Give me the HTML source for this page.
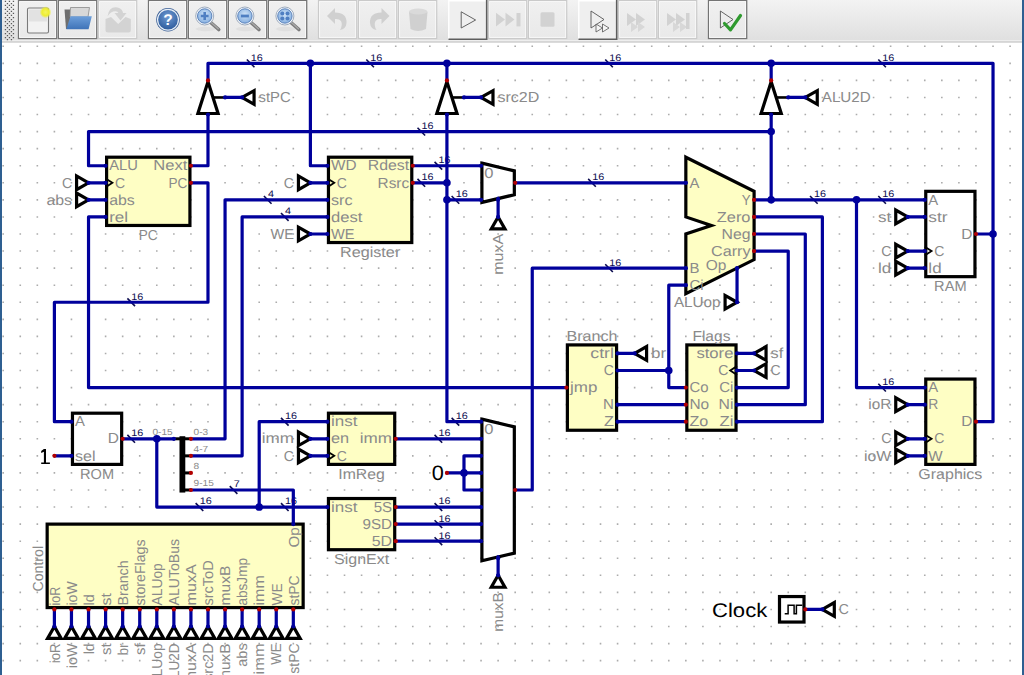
<!DOCTYPE html>
<html><head><meta charset="utf-8"><style>
html,body{margin:0;padding:0;width:1024px;height:675px;overflow:hidden;background:#fff;}
svg{position:absolute;left:0;top:0;}
text{font-family:"Liberation Sans",sans-serif;text-rendering:geometricPrecision;}
.w{fill:none;stroke:#00009c;stroke-width:3.2;stroke-linejoin:round;stroke-linecap:round;}
</style></head><body>
<svg width="1024" height="675" viewBox="0 0 1024 675">
<rect x="0" y="0" width="1024" height="675" fill="#fff"/>
<path d="M2.4 45.47h1.6v1.6h-1.6zM2.4 62.54h1.6v1.6h-1.6zM2.4 79.6h1.6v1.6h-1.6zM2.4 96.67h1.6v1.6h-1.6zM2.4 113.73h1.6v1.6h-1.6zM2.4 130.8h1.6v1.6h-1.6zM2.4 147.87h1.6v1.6h-1.6zM2.4 164.93h1.6v1.6h-1.6zM2.4 182h1.6v1.6h-1.6zM2.4 199.06h1.6v1.6h-1.6zM2.4 216.13h1.6v1.6h-1.6zM2.4 233.2h1.6v1.6h-1.6zM2.4 250.26h1.6v1.6h-1.6zM2.4 267.33h1.6v1.6h-1.6zM2.4 284.39h1.6v1.6h-1.6zM2.4 301.46h1.6v1.6h-1.6zM2.4 318.53h1.6v1.6h-1.6zM2.4 335.59h1.6v1.6h-1.6zM2.4 352.66h1.6v1.6h-1.6zM2.4 369.72h1.6v1.6h-1.6zM2.4 386.79h1.6v1.6h-1.6zM2.4 403.86h1.6v1.6h-1.6zM2.4 420.92h1.6v1.6h-1.6zM2.4 437.99h1.6v1.6h-1.6zM2.4 455.05h1.6v1.6h-1.6zM2.4 472.12h1.6v1.6h-1.6zM2.4 489.19h1.6v1.6h-1.6zM2.4 506.25h1.6v1.6h-1.6zM2.4 523.32h1.6v1.6h-1.6zM2.4 540.38h1.6v1.6h-1.6zM2.4 557.45h1.6v1.6h-1.6zM2.4 574.52h1.6v1.6h-1.6zM2.4 591.58h1.6v1.6h-1.6zM2.4 608.65h1.6v1.6h-1.6zM2.4 625.71h1.6v1.6h-1.6zM2.4 642.78h1.6v1.6h-1.6zM2.4 659.85h1.6v1.6h-1.6zM19.47 45.47h1.6v1.6h-1.6zM19.47 62.54h1.6v1.6h-1.6zM19.47 79.6h1.6v1.6h-1.6zM19.47 96.67h1.6v1.6h-1.6zM19.47 113.73h1.6v1.6h-1.6zM19.47 130.8h1.6v1.6h-1.6zM19.47 147.87h1.6v1.6h-1.6zM19.47 164.93h1.6v1.6h-1.6zM19.47 182h1.6v1.6h-1.6zM19.47 199.06h1.6v1.6h-1.6zM19.47 216.13h1.6v1.6h-1.6zM19.47 233.2h1.6v1.6h-1.6zM19.47 250.26h1.6v1.6h-1.6zM19.47 267.33h1.6v1.6h-1.6zM19.47 284.39h1.6v1.6h-1.6zM19.47 301.46h1.6v1.6h-1.6zM19.47 318.53h1.6v1.6h-1.6zM19.47 335.59h1.6v1.6h-1.6zM19.47 352.66h1.6v1.6h-1.6zM19.47 369.72h1.6v1.6h-1.6zM19.47 386.79h1.6v1.6h-1.6zM19.47 403.86h1.6v1.6h-1.6zM19.47 420.92h1.6v1.6h-1.6zM19.47 437.99h1.6v1.6h-1.6zM19.47 455.05h1.6v1.6h-1.6zM19.47 472.12h1.6v1.6h-1.6zM19.47 489.19h1.6v1.6h-1.6zM19.47 506.25h1.6v1.6h-1.6zM19.47 523.32h1.6v1.6h-1.6zM19.47 540.38h1.6v1.6h-1.6zM19.47 557.45h1.6v1.6h-1.6zM19.47 574.52h1.6v1.6h-1.6zM19.47 591.58h1.6v1.6h-1.6zM19.47 608.65h1.6v1.6h-1.6zM19.47 625.71h1.6v1.6h-1.6zM19.47 642.78h1.6v1.6h-1.6zM19.47 659.85h1.6v1.6h-1.6zM36.53 45.47h1.6v1.6h-1.6zM36.53 62.54h1.6v1.6h-1.6zM36.53 79.6h1.6v1.6h-1.6zM36.53 96.67h1.6v1.6h-1.6zM36.53 113.73h1.6v1.6h-1.6zM36.53 130.8h1.6v1.6h-1.6zM36.53 147.87h1.6v1.6h-1.6zM36.53 164.93h1.6v1.6h-1.6zM36.53 182h1.6v1.6h-1.6zM36.53 199.06h1.6v1.6h-1.6zM36.53 216.13h1.6v1.6h-1.6zM36.53 233.2h1.6v1.6h-1.6zM36.53 250.26h1.6v1.6h-1.6zM36.53 267.33h1.6v1.6h-1.6zM36.53 284.39h1.6v1.6h-1.6zM36.53 301.46h1.6v1.6h-1.6zM36.53 318.53h1.6v1.6h-1.6zM36.53 335.59h1.6v1.6h-1.6zM36.53 352.66h1.6v1.6h-1.6zM36.53 369.72h1.6v1.6h-1.6zM36.53 386.79h1.6v1.6h-1.6zM36.53 403.86h1.6v1.6h-1.6zM36.53 420.92h1.6v1.6h-1.6zM36.53 437.99h1.6v1.6h-1.6zM36.53 455.05h1.6v1.6h-1.6zM36.53 472.12h1.6v1.6h-1.6zM36.53 489.19h1.6v1.6h-1.6zM36.53 506.25h1.6v1.6h-1.6zM36.53 523.32h1.6v1.6h-1.6zM36.53 540.38h1.6v1.6h-1.6zM36.53 557.45h1.6v1.6h-1.6zM36.53 574.52h1.6v1.6h-1.6zM36.53 591.58h1.6v1.6h-1.6zM36.53 608.65h1.6v1.6h-1.6zM36.53 625.71h1.6v1.6h-1.6zM36.53 642.78h1.6v1.6h-1.6zM36.53 659.85h1.6v1.6h-1.6zM53.6 45.47h1.6v1.6h-1.6zM53.6 62.54h1.6v1.6h-1.6zM53.6 79.6h1.6v1.6h-1.6zM53.6 96.67h1.6v1.6h-1.6zM53.6 113.73h1.6v1.6h-1.6zM53.6 130.8h1.6v1.6h-1.6zM53.6 147.87h1.6v1.6h-1.6zM53.6 164.93h1.6v1.6h-1.6zM53.6 182h1.6v1.6h-1.6zM53.6 199.06h1.6v1.6h-1.6zM53.6 216.13h1.6v1.6h-1.6zM53.6 233.2h1.6v1.6h-1.6zM53.6 250.26h1.6v1.6h-1.6zM53.6 267.33h1.6v1.6h-1.6zM53.6 284.39h1.6v1.6h-1.6zM53.6 301.46h1.6v1.6h-1.6zM53.6 318.53h1.6v1.6h-1.6zM53.6 335.59h1.6v1.6h-1.6zM53.6 352.66h1.6v1.6h-1.6zM53.6 369.72h1.6v1.6h-1.6zM53.6 386.79h1.6v1.6h-1.6zM53.6 403.86h1.6v1.6h-1.6zM53.6 420.92h1.6v1.6h-1.6zM53.6 437.99h1.6v1.6h-1.6zM53.6 455.05h1.6v1.6h-1.6zM53.6 472.12h1.6v1.6h-1.6zM53.6 489.19h1.6v1.6h-1.6zM53.6 506.25h1.6v1.6h-1.6zM53.6 523.32h1.6v1.6h-1.6zM53.6 540.38h1.6v1.6h-1.6zM53.6 557.45h1.6v1.6h-1.6zM53.6 574.52h1.6v1.6h-1.6zM53.6 591.58h1.6v1.6h-1.6zM53.6 608.65h1.6v1.6h-1.6zM53.6 625.71h1.6v1.6h-1.6zM53.6 642.78h1.6v1.6h-1.6zM53.6 659.85h1.6v1.6h-1.6zM70.66 45.47h1.6v1.6h-1.6zM70.66 62.54h1.6v1.6h-1.6zM70.66 79.6h1.6v1.6h-1.6zM70.66 96.67h1.6v1.6h-1.6zM70.66 113.73h1.6v1.6h-1.6zM70.66 130.8h1.6v1.6h-1.6zM70.66 147.87h1.6v1.6h-1.6zM70.66 164.93h1.6v1.6h-1.6zM70.66 182h1.6v1.6h-1.6zM70.66 199.06h1.6v1.6h-1.6zM70.66 216.13h1.6v1.6h-1.6zM70.66 233.2h1.6v1.6h-1.6zM70.66 250.26h1.6v1.6h-1.6zM70.66 267.33h1.6v1.6h-1.6zM70.66 284.39h1.6v1.6h-1.6zM70.66 301.46h1.6v1.6h-1.6zM70.66 318.53h1.6v1.6h-1.6zM70.66 335.59h1.6v1.6h-1.6zM70.66 352.66h1.6v1.6h-1.6zM70.66 369.72h1.6v1.6h-1.6zM70.66 386.79h1.6v1.6h-1.6zM70.66 403.86h1.6v1.6h-1.6zM70.66 420.92h1.6v1.6h-1.6zM70.66 437.99h1.6v1.6h-1.6zM70.66 455.05h1.6v1.6h-1.6zM70.66 472.12h1.6v1.6h-1.6zM70.66 489.19h1.6v1.6h-1.6zM70.66 506.25h1.6v1.6h-1.6zM70.66 523.32h1.6v1.6h-1.6zM70.66 540.38h1.6v1.6h-1.6zM70.66 557.45h1.6v1.6h-1.6zM70.66 574.52h1.6v1.6h-1.6zM70.66 591.58h1.6v1.6h-1.6zM70.66 608.65h1.6v1.6h-1.6zM70.66 625.71h1.6v1.6h-1.6zM70.66 642.78h1.6v1.6h-1.6zM70.66 659.85h1.6v1.6h-1.6zM87.73 45.47h1.6v1.6h-1.6zM87.73 62.54h1.6v1.6h-1.6zM87.73 79.6h1.6v1.6h-1.6zM87.73 96.67h1.6v1.6h-1.6zM87.73 113.73h1.6v1.6h-1.6zM87.73 130.8h1.6v1.6h-1.6zM87.73 147.87h1.6v1.6h-1.6zM87.73 164.93h1.6v1.6h-1.6zM87.73 182h1.6v1.6h-1.6zM87.73 199.06h1.6v1.6h-1.6zM87.73 216.13h1.6v1.6h-1.6zM87.73 233.2h1.6v1.6h-1.6zM87.73 250.26h1.6v1.6h-1.6zM87.73 267.33h1.6v1.6h-1.6zM87.73 284.39h1.6v1.6h-1.6zM87.73 301.46h1.6v1.6h-1.6zM87.73 318.53h1.6v1.6h-1.6zM87.73 335.59h1.6v1.6h-1.6zM87.73 352.66h1.6v1.6h-1.6zM87.73 369.72h1.6v1.6h-1.6zM87.73 386.79h1.6v1.6h-1.6zM87.73 403.86h1.6v1.6h-1.6zM87.73 420.92h1.6v1.6h-1.6zM87.73 437.99h1.6v1.6h-1.6zM87.73 455.05h1.6v1.6h-1.6zM87.73 472.12h1.6v1.6h-1.6zM87.73 489.19h1.6v1.6h-1.6zM87.73 506.25h1.6v1.6h-1.6zM87.73 523.32h1.6v1.6h-1.6zM87.73 540.38h1.6v1.6h-1.6zM87.73 557.45h1.6v1.6h-1.6zM87.73 574.52h1.6v1.6h-1.6zM87.73 591.58h1.6v1.6h-1.6zM87.73 608.65h1.6v1.6h-1.6zM87.73 625.71h1.6v1.6h-1.6zM87.73 642.78h1.6v1.6h-1.6zM87.73 659.85h1.6v1.6h-1.6zM104.8 45.47h1.6v1.6h-1.6zM104.8 62.54h1.6v1.6h-1.6zM104.8 79.6h1.6v1.6h-1.6zM104.8 96.67h1.6v1.6h-1.6zM104.8 113.73h1.6v1.6h-1.6zM104.8 130.8h1.6v1.6h-1.6zM104.8 147.87h1.6v1.6h-1.6zM104.8 164.93h1.6v1.6h-1.6zM104.8 182h1.6v1.6h-1.6zM104.8 199.06h1.6v1.6h-1.6zM104.8 216.13h1.6v1.6h-1.6zM104.8 233.2h1.6v1.6h-1.6zM104.8 250.26h1.6v1.6h-1.6zM104.8 267.33h1.6v1.6h-1.6zM104.8 284.39h1.6v1.6h-1.6zM104.8 301.46h1.6v1.6h-1.6zM104.8 318.53h1.6v1.6h-1.6zM104.8 335.59h1.6v1.6h-1.6zM104.8 352.66h1.6v1.6h-1.6zM104.8 369.72h1.6v1.6h-1.6zM104.8 386.79h1.6v1.6h-1.6zM104.8 403.86h1.6v1.6h-1.6zM104.8 420.92h1.6v1.6h-1.6zM104.8 437.99h1.6v1.6h-1.6zM104.8 455.05h1.6v1.6h-1.6zM104.8 472.12h1.6v1.6h-1.6zM104.8 489.19h1.6v1.6h-1.6zM104.8 506.25h1.6v1.6h-1.6zM104.8 523.32h1.6v1.6h-1.6zM104.8 540.38h1.6v1.6h-1.6zM104.8 557.45h1.6v1.6h-1.6zM104.8 574.52h1.6v1.6h-1.6zM104.8 591.58h1.6v1.6h-1.6zM104.8 608.65h1.6v1.6h-1.6zM104.8 625.71h1.6v1.6h-1.6zM104.8 642.78h1.6v1.6h-1.6zM104.8 659.85h1.6v1.6h-1.6zM121.86 45.47h1.6v1.6h-1.6zM121.86 62.54h1.6v1.6h-1.6zM121.86 79.6h1.6v1.6h-1.6zM121.86 96.67h1.6v1.6h-1.6zM121.86 113.73h1.6v1.6h-1.6zM121.86 130.8h1.6v1.6h-1.6zM121.86 147.87h1.6v1.6h-1.6zM121.86 164.93h1.6v1.6h-1.6zM121.86 182h1.6v1.6h-1.6zM121.86 199.06h1.6v1.6h-1.6zM121.86 216.13h1.6v1.6h-1.6zM121.86 233.2h1.6v1.6h-1.6zM121.86 250.26h1.6v1.6h-1.6zM121.86 267.33h1.6v1.6h-1.6zM121.86 284.39h1.6v1.6h-1.6zM121.86 301.46h1.6v1.6h-1.6zM121.86 318.53h1.6v1.6h-1.6zM121.86 335.59h1.6v1.6h-1.6zM121.86 352.66h1.6v1.6h-1.6zM121.86 369.72h1.6v1.6h-1.6zM121.86 386.79h1.6v1.6h-1.6zM121.86 403.86h1.6v1.6h-1.6zM121.86 420.92h1.6v1.6h-1.6zM121.86 437.99h1.6v1.6h-1.6zM121.86 455.05h1.6v1.6h-1.6zM121.86 472.12h1.6v1.6h-1.6zM121.86 489.19h1.6v1.6h-1.6zM121.86 506.25h1.6v1.6h-1.6zM121.86 523.32h1.6v1.6h-1.6zM121.86 540.38h1.6v1.6h-1.6zM121.86 557.45h1.6v1.6h-1.6zM121.86 574.52h1.6v1.6h-1.6zM121.86 591.58h1.6v1.6h-1.6zM121.86 608.65h1.6v1.6h-1.6zM121.86 625.71h1.6v1.6h-1.6zM121.86 642.78h1.6v1.6h-1.6zM121.86 659.85h1.6v1.6h-1.6zM138.93 45.47h1.6v1.6h-1.6zM138.93 62.54h1.6v1.6h-1.6zM138.93 79.6h1.6v1.6h-1.6zM138.93 96.67h1.6v1.6h-1.6zM138.93 113.73h1.6v1.6h-1.6zM138.93 130.8h1.6v1.6h-1.6zM138.93 147.87h1.6v1.6h-1.6zM138.93 164.93h1.6v1.6h-1.6zM138.93 182h1.6v1.6h-1.6zM138.93 199.06h1.6v1.6h-1.6zM138.93 216.13h1.6v1.6h-1.6zM138.93 233.2h1.6v1.6h-1.6zM138.93 250.26h1.6v1.6h-1.6zM138.93 267.33h1.6v1.6h-1.6zM138.93 284.39h1.6v1.6h-1.6zM138.93 301.46h1.6v1.6h-1.6zM138.93 318.53h1.6v1.6h-1.6zM138.93 335.59h1.6v1.6h-1.6zM138.93 352.66h1.6v1.6h-1.6zM138.93 369.72h1.6v1.6h-1.6zM138.93 386.79h1.6v1.6h-1.6zM138.93 403.86h1.6v1.6h-1.6zM138.93 420.92h1.6v1.6h-1.6zM138.93 437.99h1.6v1.6h-1.6zM138.93 455.05h1.6v1.6h-1.6zM138.93 472.12h1.6v1.6h-1.6zM138.93 489.19h1.6v1.6h-1.6zM138.93 506.25h1.6v1.6h-1.6zM138.93 523.32h1.6v1.6h-1.6zM138.93 540.38h1.6v1.6h-1.6zM138.93 557.45h1.6v1.6h-1.6zM138.93 574.52h1.6v1.6h-1.6zM138.93 591.58h1.6v1.6h-1.6zM138.93 608.65h1.6v1.6h-1.6zM138.93 625.71h1.6v1.6h-1.6zM138.93 642.78h1.6v1.6h-1.6zM138.93 659.85h1.6v1.6h-1.6zM155.99 45.47h1.6v1.6h-1.6zM155.99 62.54h1.6v1.6h-1.6zM155.99 79.6h1.6v1.6h-1.6zM155.99 96.67h1.6v1.6h-1.6zM155.99 113.73h1.6v1.6h-1.6zM155.99 130.8h1.6v1.6h-1.6zM155.99 147.87h1.6v1.6h-1.6zM155.99 164.93h1.6v1.6h-1.6zM155.99 182h1.6v1.6h-1.6zM155.99 199.06h1.6v1.6h-1.6zM155.99 216.13h1.6v1.6h-1.6zM155.99 233.2h1.6v1.6h-1.6zM155.99 250.26h1.6v1.6h-1.6zM155.99 267.33h1.6v1.6h-1.6zM155.99 284.39h1.6v1.6h-1.6zM155.99 301.46h1.6v1.6h-1.6zM155.99 318.53h1.6v1.6h-1.6zM155.99 335.59h1.6v1.6h-1.6zM155.99 352.66h1.6v1.6h-1.6zM155.99 369.72h1.6v1.6h-1.6zM155.99 386.79h1.6v1.6h-1.6zM155.99 403.86h1.6v1.6h-1.6zM155.99 420.92h1.6v1.6h-1.6zM155.99 437.99h1.6v1.6h-1.6zM155.99 455.05h1.6v1.6h-1.6zM155.99 472.12h1.6v1.6h-1.6zM155.99 489.19h1.6v1.6h-1.6zM155.99 506.25h1.6v1.6h-1.6zM155.99 523.32h1.6v1.6h-1.6zM155.99 540.38h1.6v1.6h-1.6zM155.99 557.45h1.6v1.6h-1.6zM155.99 574.52h1.6v1.6h-1.6zM155.99 591.58h1.6v1.6h-1.6zM155.99 608.65h1.6v1.6h-1.6zM155.99 625.71h1.6v1.6h-1.6zM155.99 642.78h1.6v1.6h-1.6zM155.99 659.85h1.6v1.6h-1.6zM173.06 45.47h1.6v1.6h-1.6zM173.06 62.54h1.6v1.6h-1.6zM173.06 79.6h1.6v1.6h-1.6zM173.06 96.67h1.6v1.6h-1.6zM173.06 113.73h1.6v1.6h-1.6zM173.06 130.8h1.6v1.6h-1.6zM173.06 147.87h1.6v1.6h-1.6zM173.06 164.93h1.6v1.6h-1.6zM173.06 182h1.6v1.6h-1.6zM173.06 199.06h1.6v1.6h-1.6zM173.06 216.13h1.6v1.6h-1.6zM173.06 233.2h1.6v1.6h-1.6zM173.06 250.26h1.6v1.6h-1.6zM173.06 267.33h1.6v1.6h-1.6zM173.06 284.39h1.6v1.6h-1.6zM173.06 301.46h1.6v1.6h-1.6zM173.06 318.53h1.6v1.6h-1.6zM173.06 335.59h1.6v1.6h-1.6zM173.06 352.66h1.6v1.6h-1.6zM173.06 369.72h1.6v1.6h-1.6zM173.06 386.79h1.6v1.6h-1.6zM173.06 403.86h1.6v1.6h-1.6zM173.06 420.92h1.6v1.6h-1.6zM173.06 437.99h1.6v1.6h-1.6zM173.06 455.05h1.6v1.6h-1.6zM173.06 472.12h1.6v1.6h-1.6zM173.06 489.19h1.6v1.6h-1.6zM173.06 506.25h1.6v1.6h-1.6zM173.06 523.32h1.6v1.6h-1.6zM173.06 540.38h1.6v1.6h-1.6zM173.06 557.45h1.6v1.6h-1.6zM173.06 574.52h1.6v1.6h-1.6zM173.06 591.58h1.6v1.6h-1.6zM173.06 608.65h1.6v1.6h-1.6zM173.06 625.71h1.6v1.6h-1.6zM173.06 642.78h1.6v1.6h-1.6zM173.06 659.85h1.6v1.6h-1.6zM190.13 45.47h1.6v1.6h-1.6zM190.13 62.54h1.6v1.6h-1.6zM190.13 79.6h1.6v1.6h-1.6zM190.13 96.67h1.6v1.6h-1.6zM190.13 113.73h1.6v1.6h-1.6zM190.13 130.8h1.6v1.6h-1.6zM190.13 147.87h1.6v1.6h-1.6zM190.13 164.93h1.6v1.6h-1.6zM190.13 182h1.6v1.6h-1.6zM190.13 199.06h1.6v1.6h-1.6zM190.13 216.13h1.6v1.6h-1.6zM190.13 233.2h1.6v1.6h-1.6zM190.13 250.26h1.6v1.6h-1.6zM190.13 267.33h1.6v1.6h-1.6zM190.13 284.39h1.6v1.6h-1.6zM190.13 301.46h1.6v1.6h-1.6zM190.13 318.53h1.6v1.6h-1.6zM190.13 335.59h1.6v1.6h-1.6zM190.13 352.66h1.6v1.6h-1.6zM190.13 369.72h1.6v1.6h-1.6zM190.13 386.79h1.6v1.6h-1.6zM190.13 403.86h1.6v1.6h-1.6zM190.13 420.92h1.6v1.6h-1.6zM190.13 437.99h1.6v1.6h-1.6zM190.13 455.05h1.6v1.6h-1.6zM190.13 472.12h1.6v1.6h-1.6zM190.13 489.19h1.6v1.6h-1.6zM190.13 506.25h1.6v1.6h-1.6zM190.13 523.32h1.6v1.6h-1.6zM190.13 540.38h1.6v1.6h-1.6zM190.13 557.45h1.6v1.6h-1.6zM190.13 574.52h1.6v1.6h-1.6zM190.13 591.58h1.6v1.6h-1.6zM190.13 608.65h1.6v1.6h-1.6zM190.13 625.71h1.6v1.6h-1.6zM190.13 642.78h1.6v1.6h-1.6zM190.13 659.85h1.6v1.6h-1.6zM207.19 45.47h1.6v1.6h-1.6zM207.19 62.54h1.6v1.6h-1.6zM207.19 79.6h1.6v1.6h-1.6zM207.19 96.67h1.6v1.6h-1.6zM207.19 113.73h1.6v1.6h-1.6zM207.19 130.8h1.6v1.6h-1.6zM207.19 147.87h1.6v1.6h-1.6zM207.19 164.93h1.6v1.6h-1.6zM207.19 182h1.6v1.6h-1.6zM207.19 199.06h1.6v1.6h-1.6zM207.19 216.13h1.6v1.6h-1.6zM207.19 233.2h1.6v1.6h-1.6zM207.19 250.26h1.6v1.6h-1.6zM207.19 267.33h1.6v1.6h-1.6zM207.19 284.39h1.6v1.6h-1.6zM207.19 301.46h1.6v1.6h-1.6zM207.19 318.53h1.6v1.6h-1.6zM207.19 335.59h1.6v1.6h-1.6zM207.19 352.66h1.6v1.6h-1.6zM207.19 369.72h1.6v1.6h-1.6zM207.19 386.79h1.6v1.6h-1.6zM207.19 403.86h1.6v1.6h-1.6zM207.19 420.92h1.6v1.6h-1.6zM207.19 437.99h1.6v1.6h-1.6zM207.19 455.05h1.6v1.6h-1.6zM207.19 472.12h1.6v1.6h-1.6zM207.19 489.19h1.6v1.6h-1.6zM207.19 506.25h1.6v1.6h-1.6zM207.19 523.32h1.6v1.6h-1.6zM207.19 540.38h1.6v1.6h-1.6zM207.19 557.45h1.6v1.6h-1.6zM207.19 574.52h1.6v1.6h-1.6zM207.19 591.58h1.6v1.6h-1.6zM207.19 608.65h1.6v1.6h-1.6zM207.19 625.71h1.6v1.6h-1.6zM207.19 642.78h1.6v1.6h-1.6zM207.19 659.85h1.6v1.6h-1.6zM224.26 45.47h1.6v1.6h-1.6zM224.26 62.54h1.6v1.6h-1.6zM224.26 79.6h1.6v1.6h-1.6zM224.26 96.67h1.6v1.6h-1.6zM224.26 113.73h1.6v1.6h-1.6zM224.26 130.8h1.6v1.6h-1.6zM224.26 147.87h1.6v1.6h-1.6zM224.26 164.93h1.6v1.6h-1.6zM224.26 182h1.6v1.6h-1.6zM224.26 199.06h1.6v1.6h-1.6zM224.26 216.13h1.6v1.6h-1.6zM224.26 233.2h1.6v1.6h-1.6zM224.26 250.26h1.6v1.6h-1.6zM224.26 267.33h1.6v1.6h-1.6zM224.26 284.39h1.6v1.6h-1.6zM224.26 301.46h1.6v1.6h-1.6zM224.26 318.53h1.6v1.6h-1.6zM224.26 335.59h1.6v1.6h-1.6zM224.26 352.66h1.6v1.6h-1.6zM224.26 369.72h1.6v1.6h-1.6zM224.26 386.79h1.6v1.6h-1.6zM224.26 403.86h1.6v1.6h-1.6zM224.26 420.92h1.6v1.6h-1.6zM224.26 437.99h1.6v1.6h-1.6zM224.26 455.05h1.6v1.6h-1.6zM224.26 472.12h1.6v1.6h-1.6zM224.26 489.19h1.6v1.6h-1.6zM224.26 506.25h1.6v1.6h-1.6zM224.26 523.32h1.6v1.6h-1.6zM224.26 540.38h1.6v1.6h-1.6zM224.26 557.45h1.6v1.6h-1.6zM224.26 574.52h1.6v1.6h-1.6zM224.26 591.58h1.6v1.6h-1.6zM224.26 608.65h1.6v1.6h-1.6zM224.26 625.71h1.6v1.6h-1.6zM224.26 642.78h1.6v1.6h-1.6zM224.26 659.85h1.6v1.6h-1.6zM241.32 45.47h1.6v1.6h-1.6zM241.32 62.54h1.6v1.6h-1.6zM241.32 79.6h1.6v1.6h-1.6zM241.32 96.67h1.6v1.6h-1.6zM241.32 113.73h1.6v1.6h-1.6zM241.32 130.8h1.6v1.6h-1.6zM241.32 147.87h1.6v1.6h-1.6zM241.32 164.93h1.6v1.6h-1.6zM241.32 182h1.6v1.6h-1.6zM241.32 199.06h1.6v1.6h-1.6zM241.32 216.13h1.6v1.6h-1.6zM241.32 233.2h1.6v1.6h-1.6zM241.32 250.26h1.6v1.6h-1.6zM241.32 267.33h1.6v1.6h-1.6zM241.32 284.39h1.6v1.6h-1.6zM241.32 301.46h1.6v1.6h-1.6zM241.32 318.53h1.6v1.6h-1.6zM241.32 335.59h1.6v1.6h-1.6zM241.32 352.66h1.6v1.6h-1.6zM241.32 369.72h1.6v1.6h-1.6zM241.32 386.79h1.6v1.6h-1.6zM241.32 403.86h1.6v1.6h-1.6zM241.32 420.92h1.6v1.6h-1.6zM241.32 437.99h1.6v1.6h-1.6zM241.32 455.05h1.6v1.6h-1.6zM241.32 472.12h1.6v1.6h-1.6zM241.32 489.19h1.6v1.6h-1.6zM241.32 506.25h1.6v1.6h-1.6zM241.32 523.32h1.6v1.6h-1.6zM241.32 540.38h1.6v1.6h-1.6zM241.32 557.45h1.6v1.6h-1.6zM241.32 574.52h1.6v1.6h-1.6zM241.32 591.58h1.6v1.6h-1.6zM241.32 608.65h1.6v1.6h-1.6zM241.32 625.71h1.6v1.6h-1.6zM241.32 642.78h1.6v1.6h-1.6zM241.32 659.85h1.6v1.6h-1.6zM258.39 45.47h1.6v1.6h-1.6zM258.39 62.54h1.6v1.6h-1.6zM258.39 79.6h1.6v1.6h-1.6zM258.39 96.67h1.6v1.6h-1.6zM258.39 113.73h1.6v1.6h-1.6zM258.39 130.8h1.6v1.6h-1.6zM258.39 147.87h1.6v1.6h-1.6zM258.39 164.93h1.6v1.6h-1.6zM258.39 182h1.6v1.6h-1.6zM258.39 199.06h1.6v1.6h-1.6zM258.39 216.13h1.6v1.6h-1.6zM258.39 233.2h1.6v1.6h-1.6zM258.39 250.26h1.6v1.6h-1.6zM258.39 267.33h1.6v1.6h-1.6zM258.39 284.39h1.6v1.6h-1.6zM258.39 301.46h1.6v1.6h-1.6zM258.39 318.53h1.6v1.6h-1.6zM258.39 335.59h1.6v1.6h-1.6zM258.39 352.66h1.6v1.6h-1.6zM258.39 369.72h1.6v1.6h-1.6zM258.39 386.79h1.6v1.6h-1.6zM258.39 403.86h1.6v1.6h-1.6zM258.39 420.92h1.6v1.6h-1.6zM258.39 437.99h1.6v1.6h-1.6zM258.39 455.05h1.6v1.6h-1.6zM258.39 472.12h1.6v1.6h-1.6zM258.39 489.19h1.6v1.6h-1.6zM258.39 506.25h1.6v1.6h-1.6zM258.39 523.32h1.6v1.6h-1.6zM258.39 540.38h1.6v1.6h-1.6zM258.39 557.45h1.6v1.6h-1.6zM258.39 574.52h1.6v1.6h-1.6zM258.39 591.58h1.6v1.6h-1.6zM258.39 608.65h1.6v1.6h-1.6zM258.39 625.71h1.6v1.6h-1.6zM258.39 642.78h1.6v1.6h-1.6zM258.39 659.85h1.6v1.6h-1.6zM275.46 45.47h1.6v1.6h-1.6zM275.46 62.54h1.6v1.6h-1.6zM275.46 79.6h1.6v1.6h-1.6zM275.46 96.67h1.6v1.6h-1.6zM275.46 113.73h1.6v1.6h-1.6zM275.46 130.8h1.6v1.6h-1.6zM275.46 147.87h1.6v1.6h-1.6zM275.46 164.93h1.6v1.6h-1.6zM275.46 182h1.6v1.6h-1.6zM275.46 199.06h1.6v1.6h-1.6zM275.46 216.13h1.6v1.6h-1.6zM275.46 233.2h1.6v1.6h-1.6zM275.46 250.26h1.6v1.6h-1.6zM275.46 267.33h1.6v1.6h-1.6zM275.46 284.39h1.6v1.6h-1.6zM275.46 301.46h1.6v1.6h-1.6zM275.46 318.53h1.6v1.6h-1.6zM275.46 335.59h1.6v1.6h-1.6zM275.46 352.66h1.6v1.6h-1.6zM275.46 369.72h1.6v1.6h-1.6zM275.46 386.79h1.6v1.6h-1.6zM275.46 403.86h1.6v1.6h-1.6zM275.46 420.92h1.6v1.6h-1.6zM275.46 437.99h1.6v1.6h-1.6zM275.46 455.05h1.6v1.6h-1.6zM275.46 472.12h1.6v1.6h-1.6zM275.46 489.19h1.6v1.6h-1.6zM275.46 506.25h1.6v1.6h-1.6zM275.46 523.32h1.6v1.6h-1.6zM275.46 540.38h1.6v1.6h-1.6zM275.46 557.45h1.6v1.6h-1.6zM275.46 574.52h1.6v1.6h-1.6zM275.46 591.58h1.6v1.6h-1.6zM275.46 608.65h1.6v1.6h-1.6zM275.46 625.71h1.6v1.6h-1.6zM275.46 642.78h1.6v1.6h-1.6zM275.46 659.85h1.6v1.6h-1.6zM292.52 45.47h1.6v1.6h-1.6zM292.52 62.54h1.6v1.6h-1.6zM292.52 79.6h1.6v1.6h-1.6zM292.52 96.67h1.6v1.6h-1.6zM292.52 113.73h1.6v1.6h-1.6zM292.52 130.8h1.6v1.6h-1.6zM292.52 147.87h1.6v1.6h-1.6zM292.52 164.93h1.6v1.6h-1.6zM292.52 182h1.6v1.6h-1.6zM292.52 199.06h1.6v1.6h-1.6zM292.52 216.13h1.6v1.6h-1.6zM292.52 233.2h1.6v1.6h-1.6zM292.52 250.26h1.6v1.6h-1.6zM292.52 267.33h1.6v1.6h-1.6zM292.52 284.39h1.6v1.6h-1.6zM292.52 301.46h1.6v1.6h-1.6zM292.52 318.53h1.6v1.6h-1.6zM292.52 335.59h1.6v1.6h-1.6zM292.52 352.66h1.6v1.6h-1.6zM292.52 369.72h1.6v1.6h-1.6zM292.52 386.79h1.6v1.6h-1.6zM292.52 403.86h1.6v1.6h-1.6zM292.52 420.92h1.6v1.6h-1.6zM292.52 437.99h1.6v1.6h-1.6zM292.52 455.05h1.6v1.6h-1.6zM292.52 472.12h1.6v1.6h-1.6zM292.52 489.19h1.6v1.6h-1.6zM292.52 506.25h1.6v1.6h-1.6zM292.52 523.32h1.6v1.6h-1.6zM292.52 540.38h1.6v1.6h-1.6zM292.52 557.45h1.6v1.6h-1.6zM292.52 574.52h1.6v1.6h-1.6zM292.52 591.58h1.6v1.6h-1.6zM292.52 608.65h1.6v1.6h-1.6zM292.52 625.71h1.6v1.6h-1.6zM292.52 642.78h1.6v1.6h-1.6zM292.52 659.85h1.6v1.6h-1.6zM309.59 45.47h1.6v1.6h-1.6zM309.59 62.54h1.6v1.6h-1.6zM309.59 79.6h1.6v1.6h-1.6zM309.59 96.67h1.6v1.6h-1.6zM309.59 113.73h1.6v1.6h-1.6zM309.59 130.8h1.6v1.6h-1.6zM309.59 147.87h1.6v1.6h-1.6zM309.59 164.93h1.6v1.6h-1.6zM309.59 182h1.6v1.6h-1.6zM309.59 199.06h1.6v1.6h-1.6zM309.59 216.13h1.6v1.6h-1.6zM309.59 233.2h1.6v1.6h-1.6zM309.59 250.26h1.6v1.6h-1.6zM309.59 267.33h1.6v1.6h-1.6zM309.59 284.39h1.6v1.6h-1.6zM309.59 301.46h1.6v1.6h-1.6zM309.59 318.53h1.6v1.6h-1.6zM309.59 335.59h1.6v1.6h-1.6zM309.59 352.66h1.6v1.6h-1.6zM309.59 369.72h1.6v1.6h-1.6zM309.59 386.79h1.6v1.6h-1.6zM309.59 403.86h1.6v1.6h-1.6zM309.59 420.92h1.6v1.6h-1.6zM309.59 437.99h1.6v1.6h-1.6zM309.59 455.05h1.6v1.6h-1.6zM309.59 472.12h1.6v1.6h-1.6zM309.59 489.19h1.6v1.6h-1.6zM309.59 506.25h1.6v1.6h-1.6zM309.59 523.32h1.6v1.6h-1.6zM309.59 540.38h1.6v1.6h-1.6zM309.59 557.45h1.6v1.6h-1.6zM309.59 574.52h1.6v1.6h-1.6zM309.59 591.58h1.6v1.6h-1.6zM309.59 608.65h1.6v1.6h-1.6zM309.59 625.71h1.6v1.6h-1.6zM309.59 642.78h1.6v1.6h-1.6zM309.59 659.85h1.6v1.6h-1.6zM326.65 45.47h1.6v1.6h-1.6zM326.65 62.54h1.6v1.6h-1.6zM326.65 79.6h1.6v1.6h-1.6zM326.65 96.67h1.6v1.6h-1.6zM326.65 113.73h1.6v1.6h-1.6zM326.65 130.8h1.6v1.6h-1.6zM326.65 147.87h1.6v1.6h-1.6zM326.65 164.93h1.6v1.6h-1.6zM326.65 182h1.6v1.6h-1.6zM326.65 199.06h1.6v1.6h-1.6zM326.65 216.13h1.6v1.6h-1.6zM326.65 233.2h1.6v1.6h-1.6zM326.65 250.26h1.6v1.6h-1.6zM326.65 267.33h1.6v1.6h-1.6zM326.65 284.39h1.6v1.6h-1.6zM326.65 301.46h1.6v1.6h-1.6zM326.65 318.53h1.6v1.6h-1.6zM326.65 335.59h1.6v1.6h-1.6zM326.65 352.66h1.6v1.6h-1.6zM326.65 369.72h1.6v1.6h-1.6zM326.65 386.79h1.6v1.6h-1.6zM326.65 403.86h1.6v1.6h-1.6zM326.65 420.92h1.6v1.6h-1.6zM326.65 437.99h1.6v1.6h-1.6zM326.65 455.05h1.6v1.6h-1.6zM326.65 472.12h1.6v1.6h-1.6zM326.65 489.19h1.6v1.6h-1.6zM326.65 506.25h1.6v1.6h-1.6zM326.65 523.32h1.6v1.6h-1.6zM326.65 540.38h1.6v1.6h-1.6zM326.65 557.45h1.6v1.6h-1.6zM326.65 574.52h1.6v1.6h-1.6zM326.65 591.58h1.6v1.6h-1.6zM326.65 608.65h1.6v1.6h-1.6zM326.65 625.71h1.6v1.6h-1.6zM326.65 642.78h1.6v1.6h-1.6zM326.65 659.85h1.6v1.6h-1.6zM343.72 45.47h1.6v1.6h-1.6zM343.72 62.54h1.6v1.6h-1.6zM343.72 79.6h1.6v1.6h-1.6zM343.72 96.67h1.6v1.6h-1.6zM343.72 113.73h1.6v1.6h-1.6zM343.72 130.8h1.6v1.6h-1.6zM343.72 147.87h1.6v1.6h-1.6zM343.72 164.93h1.6v1.6h-1.6zM343.72 182h1.6v1.6h-1.6zM343.72 199.06h1.6v1.6h-1.6zM343.72 216.13h1.6v1.6h-1.6zM343.72 233.2h1.6v1.6h-1.6zM343.72 250.26h1.6v1.6h-1.6zM343.72 267.33h1.6v1.6h-1.6zM343.72 284.39h1.6v1.6h-1.6zM343.72 301.46h1.6v1.6h-1.6zM343.72 318.53h1.6v1.6h-1.6zM343.72 335.59h1.6v1.6h-1.6zM343.72 352.66h1.6v1.6h-1.6zM343.72 369.72h1.6v1.6h-1.6zM343.72 386.79h1.6v1.6h-1.6zM343.72 403.86h1.6v1.6h-1.6zM343.72 420.92h1.6v1.6h-1.6zM343.72 437.99h1.6v1.6h-1.6zM343.72 455.05h1.6v1.6h-1.6zM343.72 472.12h1.6v1.6h-1.6zM343.72 489.19h1.6v1.6h-1.6zM343.72 506.25h1.6v1.6h-1.6zM343.72 523.32h1.6v1.6h-1.6zM343.72 540.38h1.6v1.6h-1.6zM343.72 557.45h1.6v1.6h-1.6zM343.72 574.52h1.6v1.6h-1.6zM343.72 591.58h1.6v1.6h-1.6zM343.72 608.65h1.6v1.6h-1.6zM343.72 625.71h1.6v1.6h-1.6zM343.72 642.78h1.6v1.6h-1.6zM343.72 659.85h1.6v1.6h-1.6zM360.79 45.47h1.6v1.6h-1.6zM360.79 62.54h1.6v1.6h-1.6zM360.79 79.6h1.6v1.6h-1.6zM360.79 96.67h1.6v1.6h-1.6zM360.79 113.73h1.6v1.6h-1.6zM360.79 130.8h1.6v1.6h-1.6zM360.79 147.87h1.6v1.6h-1.6zM360.79 164.93h1.6v1.6h-1.6zM360.79 182h1.6v1.6h-1.6zM360.79 199.06h1.6v1.6h-1.6zM360.79 216.13h1.6v1.6h-1.6zM360.79 233.2h1.6v1.6h-1.6zM360.79 250.26h1.6v1.6h-1.6zM360.79 267.33h1.6v1.6h-1.6zM360.79 284.39h1.6v1.6h-1.6zM360.79 301.46h1.6v1.6h-1.6zM360.79 318.53h1.6v1.6h-1.6zM360.79 335.59h1.6v1.6h-1.6zM360.79 352.66h1.6v1.6h-1.6zM360.79 369.72h1.6v1.6h-1.6zM360.79 386.79h1.6v1.6h-1.6zM360.79 403.86h1.6v1.6h-1.6zM360.79 420.92h1.6v1.6h-1.6zM360.79 437.99h1.6v1.6h-1.6zM360.79 455.05h1.6v1.6h-1.6zM360.79 472.12h1.6v1.6h-1.6zM360.79 489.19h1.6v1.6h-1.6zM360.79 506.25h1.6v1.6h-1.6zM360.79 523.32h1.6v1.6h-1.6zM360.79 540.38h1.6v1.6h-1.6zM360.79 557.45h1.6v1.6h-1.6zM360.79 574.52h1.6v1.6h-1.6zM360.79 591.58h1.6v1.6h-1.6zM360.79 608.65h1.6v1.6h-1.6zM360.79 625.71h1.6v1.6h-1.6zM360.79 642.78h1.6v1.6h-1.6zM360.79 659.85h1.6v1.6h-1.6zM377.85 45.47h1.6v1.6h-1.6zM377.85 62.54h1.6v1.6h-1.6zM377.85 79.6h1.6v1.6h-1.6zM377.85 96.67h1.6v1.6h-1.6zM377.85 113.73h1.6v1.6h-1.6zM377.85 130.8h1.6v1.6h-1.6zM377.85 147.87h1.6v1.6h-1.6zM377.85 164.93h1.6v1.6h-1.6zM377.85 182h1.6v1.6h-1.6zM377.85 199.06h1.6v1.6h-1.6zM377.85 216.13h1.6v1.6h-1.6zM377.85 233.2h1.6v1.6h-1.6zM377.85 250.26h1.6v1.6h-1.6zM377.85 267.33h1.6v1.6h-1.6zM377.85 284.39h1.6v1.6h-1.6zM377.85 301.46h1.6v1.6h-1.6zM377.85 318.53h1.6v1.6h-1.6zM377.85 335.59h1.6v1.6h-1.6zM377.85 352.66h1.6v1.6h-1.6zM377.85 369.72h1.6v1.6h-1.6zM377.85 386.79h1.6v1.6h-1.6zM377.85 403.86h1.6v1.6h-1.6zM377.85 420.92h1.6v1.6h-1.6zM377.85 437.99h1.6v1.6h-1.6zM377.85 455.05h1.6v1.6h-1.6zM377.85 472.12h1.6v1.6h-1.6zM377.85 489.19h1.6v1.6h-1.6zM377.85 506.25h1.6v1.6h-1.6zM377.85 523.32h1.6v1.6h-1.6zM377.85 540.38h1.6v1.6h-1.6zM377.85 557.45h1.6v1.6h-1.6zM377.85 574.52h1.6v1.6h-1.6zM377.85 591.58h1.6v1.6h-1.6zM377.85 608.65h1.6v1.6h-1.6zM377.85 625.71h1.6v1.6h-1.6zM377.85 642.78h1.6v1.6h-1.6zM377.85 659.85h1.6v1.6h-1.6zM394.92 45.47h1.6v1.6h-1.6zM394.92 62.54h1.6v1.6h-1.6zM394.92 79.6h1.6v1.6h-1.6zM394.92 96.67h1.6v1.6h-1.6zM394.92 113.73h1.6v1.6h-1.6zM394.92 130.8h1.6v1.6h-1.6zM394.92 147.87h1.6v1.6h-1.6zM394.92 164.93h1.6v1.6h-1.6zM394.92 182h1.6v1.6h-1.6zM394.92 199.06h1.6v1.6h-1.6zM394.92 216.13h1.6v1.6h-1.6zM394.92 233.2h1.6v1.6h-1.6zM394.92 250.26h1.6v1.6h-1.6zM394.92 267.33h1.6v1.6h-1.6zM394.92 284.39h1.6v1.6h-1.6zM394.92 301.46h1.6v1.6h-1.6zM394.92 318.53h1.6v1.6h-1.6zM394.92 335.59h1.6v1.6h-1.6zM394.92 352.66h1.6v1.6h-1.6zM394.92 369.72h1.6v1.6h-1.6zM394.92 386.79h1.6v1.6h-1.6zM394.92 403.86h1.6v1.6h-1.6zM394.92 420.92h1.6v1.6h-1.6zM394.92 437.99h1.6v1.6h-1.6zM394.92 455.05h1.6v1.6h-1.6zM394.92 472.12h1.6v1.6h-1.6zM394.92 489.19h1.6v1.6h-1.6zM394.92 506.25h1.6v1.6h-1.6zM394.92 523.32h1.6v1.6h-1.6zM394.92 540.38h1.6v1.6h-1.6zM394.92 557.45h1.6v1.6h-1.6zM394.92 574.52h1.6v1.6h-1.6zM394.92 591.58h1.6v1.6h-1.6zM394.92 608.65h1.6v1.6h-1.6zM394.92 625.71h1.6v1.6h-1.6zM394.92 642.78h1.6v1.6h-1.6zM394.92 659.85h1.6v1.6h-1.6zM411.98 45.47h1.6v1.6h-1.6zM411.98 62.54h1.6v1.6h-1.6zM411.98 79.6h1.6v1.6h-1.6zM411.98 96.67h1.6v1.6h-1.6zM411.98 113.73h1.6v1.6h-1.6zM411.98 130.8h1.6v1.6h-1.6zM411.98 147.87h1.6v1.6h-1.6zM411.98 164.93h1.6v1.6h-1.6zM411.98 182h1.6v1.6h-1.6zM411.98 199.06h1.6v1.6h-1.6zM411.98 216.13h1.6v1.6h-1.6zM411.98 233.2h1.6v1.6h-1.6zM411.98 250.26h1.6v1.6h-1.6zM411.98 267.33h1.6v1.6h-1.6zM411.98 284.39h1.6v1.6h-1.6zM411.98 301.46h1.6v1.6h-1.6zM411.98 318.53h1.6v1.6h-1.6zM411.98 335.59h1.6v1.6h-1.6zM411.98 352.66h1.6v1.6h-1.6zM411.98 369.72h1.6v1.6h-1.6zM411.98 386.79h1.6v1.6h-1.6zM411.98 403.86h1.6v1.6h-1.6zM411.98 420.92h1.6v1.6h-1.6zM411.98 437.99h1.6v1.6h-1.6zM411.98 455.05h1.6v1.6h-1.6zM411.98 472.12h1.6v1.6h-1.6zM411.98 489.19h1.6v1.6h-1.6zM411.98 506.25h1.6v1.6h-1.6zM411.98 523.32h1.6v1.6h-1.6zM411.98 540.38h1.6v1.6h-1.6zM411.98 557.45h1.6v1.6h-1.6zM411.98 574.52h1.6v1.6h-1.6zM411.98 591.58h1.6v1.6h-1.6zM411.98 608.65h1.6v1.6h-1.6zM411.98 625.71h1.6v1.6h-1.6zM411.98 642.78h1.6v1.6h-1.6zM411.98 659.85h1.6v1.6h-1.6zM429.05 45.47h1.6v1.6h-1.6zM429.05 62.54h1.6v1.6h-1.6zM429.05 79.6h1.6v1.6h-1.6zM429.05 96.67h1.6v1.6h-1.6zM429.05 113.73h1.6v1.6h-1.6zM429.05 130.8h1.6v1.6h-1.6zM429.05 147.87h1.6v1.6h-1.6zM429.05 164.93h1.6v1.6h-1.6zM429.05 182h1.6v1.6h-1.6zM429.05 199.06h1.6v1.6h-1.6zM429.05 216.13h1.6v1.6h-1.6zM429.05 233.2h1.6v1.6h-1.6zM429.05 250.26h1.6v1.6h-1.6zM429.05 267.33h1.6v1.6h-1.6zM429.05 284.39h1.6v1.6h-1.6zM429.05 301.46h1.6v1.6h-1.6zM429.05 318.53h1.6v1.6h-1.6zM429.05 335.59h1.6v1.6h-1.6zM429.05 352.66h1.6v1.6h-1.6zM429.05 369.72h1.6v1.6h-1.6zM429.05 386.79h1.6v1.6h-1.6zM429.05 403.86h1.6v1.6h-1.6zM429.05 420.92h1.6v1.6h-1.6zM429.05 437.99h1.6v1.6h-1.6zM429.05 455.05h1.6v1.6h-1.6zM429.05 472.12h1.6v1.6h-1.6zM429.05 489.19h1.6v1.6h-1.6zM429.05 506.25h1.6v1.6h-1.6zM429.05 523.32h1.6v1.6h-1.6zM429.05 540.38h1.6v1.6h-1.6zM429.05 557.45h1.6v1.6h-1.6zM429.05 574.52h1.6v1.6h-1.6zM429.05 591.58h1.6v1.6h-1.6zM429.05 608.65h1.6v1.6h-1.6zM429.05 625.71h1.6v1.6h-1.6zM429.05 642.78h1.6v1.6h-1.6zM429.05 659.85h1.6v1.6h-1.6zM446.12 45.47h1.6v1.6h-1.6zM446.12 62.54h1.6v1.6h-1.6zM446.12 79.6h1.6v1.6h-1.6zM446.12 96.67h1.6v1.6h-1.6zM446.12 113.73h1.6v1.6h-1.6zM446.12 130.8h1.6v1.6h-1.6zM446.12 147.87h1.6v1.6h-1.6zM446.12 164.93h1.6v1.6h-1.6zM446.12 182h1.6v1.6h-1.6zM446.12 199.06h1.6v1.6h-1.6zM446.12 216.13h1.6v1.6h-1.6zM446.12 233.2h1.6v1.6h-1.6zM446.12 250.26h1.6v1.6h-1.6zM446.12 267.33h1.6v1.6h-1.6zM446.12 284.39h1.6v1.6h-1.6zM446.12 301.46h1.6v1.6h-1.6zM446.12 318.53h1.6v1.6h-1.6zM446.12 335.59h1.6v1.6h-1.6zM446.12 352.66h1.6v1.6h-1.6zM446.12 369.72h1.6v1.6h-1.6zM446.12 386.79h1.6v1.6h-1.6zM446.12 403.86h1.6v1.6h-1.6zM446.12 420.92h1.6v1.6h-1.6zM446.12 437.99h1.6v1.6h-1.6zM446.12 455.05h1.6v1.6h-1.6zM446.12 472.12h1.6v1.6h-1.6zM446.12 489.19h1.6v1.6h-1.6zM446.12 506.25h1.6v1.6h-1.6zM446.12 523.32h1.6v1.6h-1.6zM446.12 540.38h1.6v1.6h-1.6zM446.12 557.45h1.6v1.6h-1.6zM446.12 574.52h1.6v1.6h-1.6zM446.12 591.58h1.6v1.6h-1.6zM446.12 608.65h1.6v1.6h-1.6zM446.12 625.71h1.6v1.6h-1.6zM446.12 642.78h1.6v1.6h-1.6zM446.12 659.85h1.6v1.6h-1.6zM463.18 45.47h1.6v1.6h-1.6zM463.18 62.54h1.6v1.6h-1.6zM463.18 79.6h1.6v1.6h-1.6zM463.18 96.67h1.6v1.6h-1.6zM463.18 113.73h1.6v1.6h-1.6zM463.18 130.8h1.6v1.6h-1.6zM463.18 147.87h1.6v1.6h-1.6zM463.18 164.93h1.6v1.6h-1.6zM463.18 182h1.6v1.6h-1.6zM463.18 199.06h1.6v1.6h-1.6zM463.18 216.13h1.6v1.6h-1.6zM463.18 233.2h1.6v1.6h-1.6zM463.18 250.26h1.6v1.6h-1.6zM463.18 267.33h1.6v1.6h-1.6zM463.18 284.39h1.6v1.6h-1.6zM463.18 301.46h1.6v1.6h-1.6zM463.18 318.53h1.6v1.6h-1.6zM463.18 335.59h1.6v1.6h-1.6zM463.18 352.66h1.6v1.6h-1.6zM463.18 369.72h1.6v1.6h-1.6zM463.18 386.79h1.6v1.6h-1.6zM463.18 403.86h1.6v1.6h-1.6zM463.18 420.92h1.6v1.6h-1.6zM463.18 437.99h1.6v1.6h-1.6zM463.18 455.05h1.6v1.6h-1.6zM463.18 472.12h1.6v1.6h-1.6zM463.18 489.19h1.6v1.6h-1.6zM463.18 506.25h1.6v1.6h-1.6zM463.18 523.32h1.6v1.6h-1.6zM463.18 540.38h1.6v1.6h-1.6zM463.18 557.45h1.6v1.6h-1.6zM463.18 574.52h1.6v1.6h-1.6zM463.18 591.58h1.6v1.6h-1.6zM463.18 608.65h1.6v1.6h-1.6zM463.18 625.71h1.6v1.6h-1.6zM463.18 642.78h1.6v1.6h-1.6zM463.18 659.85h1.6v1.6h-1.6zM480.25 45.47h1.6v1.6h-1.6zM480.25 62.54h1.6v1.6h-1.6zM480.25 79.6h1.6v1.6h-1.6zM480.25 96.67h1.6v1.6h-1.6zM480.25 113.73h1.6v1.6h-1.6zM480.25 130.8h1.6v1.6h-1.6zM480.25 147.87h1.6v1.6h-1.6zM480.25 164.93h1.6v1.6h-1.6zM480.25 182h1.6v1.6h-1.6zM480.25 199.06h1.6v1.6h-1.6zM480.25 216.13h1.6v1.6h-1.6zM480.25 233.2h1.6v1.6h-1.6zM480.25 250.26h1.6v1.6h-1.6zM480.25 267.33h1.6v1.6h-1.6zM480.25 284.39h1.6v1.6h-1.6zM480.25 301.46h1.6v1.6h-1.6zM480.25 318.53h1.6v1.6h-1.6zM480.25 335.59h1.6v1.6h-1.6zM480.25 352.66h1.6v1.6h-1.6zM480.25 369.72h1.6v1.6h-1.6zM480.25 386.79h1.6v1.6h-1.6zM480.25 403.86h1.6v1.6h-1.6zM480.25 420.92h1.6v1.6h-1.6zM480.25 437.99h1.6v1.6h-1.6zM480.25 455.05h1.6v1.6h-1.6zM480.25 472.12h1.6v1.6h-1.6zM480.25 489.19h1.6v1.6h-1.6zM480.25 506.25h1.6v1.6h-1.6zM480.25 523.32h1.6v1.6h-1.6zM480.25 540.38h1.6v1.6h-1.6zM480.25 557.45h1.6v1.6h-1.6zM480.25 574.52h1.6v1.6h-1.6zM480.25 591.58h1.6v1.6h-1.6zM480.25 608.65h1.6v1.6h-1.6zM480.25 625.71h1.6v1.6h-1.6zM480.25 642.78h1.6v1.6h-1.6zM480.25 659.85h1.6v1.6h-1.6zM497.31 45.47h1.6v1.6h-1.6zM497.31 62.54h1.6v1.6h-1.6zM497.31 79.6h1.6v1.6h-1.6zM497.31 96.67h1.6v1.6h-1.6zM497.31 113.73h1.6v1.6h-1.6zM497.31 130.8h1.6v1.6h-1.6zM497.31 147.87h1.6v1.6h-1.6zM497.31 164.93h1.6v1.6h-1.6zM497.31 182h1.6v1.6h-1.6zM497.31 199.06h1.6v1.6h-1.6zM497.31 216.13h1.6v1.6h-1.6zM497.31 233.2h1.6v1.6h-1.6zM497.31 250.26h1.6v1.6h-1.6zM497.31 267.33h1.6v1.6h-1.6zM497.31 284.39h1.6v1.6h-1.6zM497.31 301.46h1.6v1.6h-1.6zM497.31 318.53h1.6v1.6h-1.6zM497.31 335.59h1.6v1.6h-1.6zM497.31 352.66h1.6v1.6h-1.6zM497.31 369.72h1.6v1.6h-1.6zM497.31 386.79h1.6v1.6h-1.6zM497.31 403.86h1.6v1.6h-1.6zM497.31 420.92h1.6v1.6h-1.6zM497.31 437.99h1.6v1.6h-1.6zM497.31 455.05h1.6v1.6h-1.6zM497.31 472.12h1.6v1.6h-1.6zM497.31 489.19h1.6v1.6h-1.6zM497.31 506.25h1.6v1.6h-1.6zM497.31 523.32h1.6v1.6h-1.6zM497.31 540.38h1.6v1.6h-1.6zM497.31 557.45h1.6v1.6h-1.6zM497.31 574.52h1.6v1.6h-1.6zM497.31 591.58h1.6v1.6h-1.6zM497.31 608.65h1.6v1.6h-1.6zM497.31 625.71h1.6v1.6h-1.6zM497.31 642.78h1.6v1.6h-1.6zM497.31 659.85h1.6v1.6h-1.6zM514.38 45.47h1.6v1.6h-1.6zM514.38 62.54h1.6v1.6h-1.6zM514.38 79.6h1.6v1.6h-1.6zM514.38 96.67h1.6v1.6h-1.6zM514.38 113.73h1.6v1.6h-1.6zM514.38 130.8h1.6v1.6h-1.6zM514.38 147.87h1.6v1.6h-1.6zM514.38 164.93h1.6v1.6h-1.6zM514.38 182h1.6v1.6h-1.6zM514.38 199.06h1.6v1.6h-1.6zM514.38 216.13h1.6v1.6h-1.6zM514.38 233.2h1.6v1.6h-1.6zM514.38 250.26h1.6v1.6h-1.6zM514.38 267.33h1.6v1.6h-1.6zM514.38 284.39h1.6v1.6h-1.6zM514.38 301.46h1.6v1.6h-1.6zM514.38 318.53h1.6v1.6h-1.6zM514.38 335.59h1.6v1.6h-1.6zM514.38 352.66h1.6v1.6h-1.6zM514.38 369.72h1.6v1.6h-1.6zM514.38 386.79h1.6v1.6h-1.6zM514.38 403.86h1.6v1.6h-1.6zM514.38 420.92h1.6v1.6h-1.6zM514.38 437.99h1.6v1.6h-1.6zM514.38 455.05h1.6v1.6h-1.6zM514.38 472.12h1.6v1.6h-1.6zM514.38 489.19h1.6v1.6h-1.6zM514.38 506.25h1.6v1.6h-1.6zM514.38 523.32h1.6v1.6h-1.6zM514.38 540.38h1.6v1.6h-1.6zM514.38 557.45h1.6v1.6h-1.6zM514.38 574.52h1.6v1.6h-1.6zM514.38 591.58h1.6v1.6h-1.6zM514.38 608.65h1.6v1.6h-1.6zM514.38 625.71h1.6v1.6h-1.6zM514.38 642.78h1.6v1.6h-1.6zM514.38 659.85h1.6v1.6h-1.6zM531.45 45.47h1.6v1.6h-1.6zM531.45 62.54h1.6v1.6h-1.6zM531.45 79.6h1.6v1.6h-1.6zM531.45 96.67h1.6v1.6h-1.6zM531.45 113.73h1.6v1.6h-1.6zM531.45 130.8h1.6v1.6h-1.6zM531.45 147.87h1.6v1.6h-1.6zM531.45 164.93h1.6v1.6h-1.6zM531.45 182h1.6v1.6h-1.6zM531.45 199.06h1.6v1.6h-1.6zM531.45 216.13h1.6v1.6h-1.6zM531.45 233.2h1.6v1.6h-1.6zM531.45 250.26h1.6v1.6h-1.6zM531.45 267.33h1.6v1.6h-1.6zM531.45 284.39h1.6v1.6h-1.6zM531.45 301.46h1.6v1.6h-1.6zM531.45 318.53h1.6v1.6h-1.6zM531.45 335.59h1.6v1.6h-1.6zM531.45 352.66h1.6v1.6h-1.6zM531.45 369.72h1.6v1.6h-1.6zM531.45 386.79h1.6v1.6h-1.6zM531.45 403.86h1.6v1.6h-1.6zM531.45 420.92h1.6v1.6h-1.6zM531.45 437.99h1.6v1.6h-1.6zM531.45 455.05h1.6v1.6h-1.6zM531.45 472.12h1.6v1.6h-1.6zM531.45 489.19h1.6v1.6h-1.6zM531.45 506.25h1.6v1.6h-1.6zM531.45 523.32h1.6v1.6h-1.6zM531.45 540.38h1.6v1.6h-1.6zM531.45 557.45h1.6v1.6h-1.6zM531.45 574.52h1.6v1.6h-1.6zM531.45 591.58h1.6v1.6h-1.6zM531.45 608.65h1.6v1.6h-1.6zM531.45 625.71h1.6v1.6h-1.6zM531.45 642.78h1.6v1.6h-1.6zM531.45 659.85h1.6v1.6h-1.6zM548.51 45.47h1.6v1.6h-1.6zM548.51 62.54h1.6v1.6h-1.6zM548.51 79.6h1.6v1.6h-1.6zM548.51 96.67h1.6v1.6h-1.6zM548.51 113.73h1.6v1.6h-1.6zM548.51 130.8h1.6v1.6h-1.6zM548.51 147.87h1.6v1.6h-1.6zM548.51 164.93h1.6v1.6h-1.6zM548.51 182h1.6v1.6h-1.6zM548.51 199.06h1.6v1.6h-1.6zM548.51 216.13h1.6v1.6h-1.6zM548.51 233.2h1.6v1.6h-1.6zM548.51 250.26h1.6v1.6h-1.6zM548.51 267.33h1.6v1.6h-1.6zM548.51 284.39h1.6v1.6h-1.6zM548.51 301.46h1.6v1.6h-1.6zM548.51 318.53h1.6v1.6h-1.6zM548.51 335.59h1.6v1.6h-1.6zM548.51 352.66h1.6v1.6h-1.6zM548.51 369.72h1.6v1.6h-1.6zM548.51 386.79h1.6v1.6h-1.6zM548.51 403.86h1.6v1.6h-1.6zM548.51 420.92h1.6v1.6h-1.6zM548.51 437.99h1.6v1.6h-1.6zM548.51 455.05h1.6v1.6h-1.6zM548.51 472.12h1.6v1.6h-1.6zM548.51 489.19h1.6v1.6h-1.6zM548.51 506.25h1.6v1.6h-1.6zM548.51 523.32h1.6v1.6h-1.6zM548.51 540.38h1.6v1.6h-1.6zM548.51 557.45h1.6v1.6h-1.6zM548.51 574.52h1.6v1.6h-1.6zM548.51 591.58h1.6v1.6h-1.6zM548.51 608.65h1.6v1.6h-1.6zM548.51 625.71h1.6v1.6h-1.6zM548.51 642.78h1.6v1.6h-1.6zM548.51 659.85h1.6v1.6h-1.6zM565.58 45.47h1.6v1.6h-1.6zM565.58 62.54h1.6v1.6h-1.6zM565.58 79.6h1.6v1.6h-1.6zM565.58 96.67h1.6v1.6h-1.6zM565.58 113.73h1.6v1.6h-1.6zM565.58 130.8h1.6v1.6h-1.6zM565.58 147.87h1.6v1.6h-1.6zM565.58 164.93h1.6v1.6h-1.6zM565.58 182h1.6v1.6h-1.6zM565.58 199.06h1.6v1.6h-1.6zM565.58 216.13h1.6v1.6h-1.6zM565.58 233.2h1.6v1.6h-1.6zM565.58 250.26h1.6v1.6h-1.6zM565.58 267.33h1.6v1.6h-1.6zM565.58 284.39h1.6v1.6h-1.6zM565.58 301.46h1.6v1.6h-1.6zM565.58 318.53h1.6v1.6h-1.6zM565.58 335.59h1.6v1.6h-1.6zM565.58 352.66h1.6v1.6h-1.6zM565.58 369.72h1.6v1.6h-1.6zM565.58 386.79h1.6v1.6h-1.6zM565.58 403.86h1.6v1.6h-1.6zM565.58 420.92h1.6v1.6h-1.6zM565.58 437.99h1.6v1.6h-1.6zM565.58 455.05h1.6v1.6h-1.6zM565.58 472.12h1.6v1.6h-1.6zM565.58 489.19h1.6v1.6h-1.6zM565.58 506.25h1.6v1.6h-1.6zM565.58 523.32h1.6v1.6h-1.6zM565.58 540.38h1.6v1.6h-1.6zM565.58 557.45h1.6v1.6h-1.6zM565.58 574.52h1.6v1.6h-1.6zM565.58 591.58h1.6v1.6h-1.6zM565.58 608.65h1.6v1.6h-1.6zM565.58 625.71h1.6v1.6h-1.6zM565.58 642.78h1.6v1.6h-1.6zM565.58 659.85h1.6v1.6h-1.6zM582.64 45.47h1.6v1.6h-1.6zM582.64 62.54h1.6v1.6h-1.6zM582.64 79.6h1.6v1.6h-1.6zM582.64 96.67h1.6v1.6h-1.6zM582.64 113.73h1.6v1.6h-1.6zM582.64 130.8h1.6v1.6h-1.6zM582.64 147.87h1.6v1.6h-1.6zM582.64 164.93h1.6v1.6h-1.6zM582.64 182h1.6v1.6h-1.6zM582.64 199.06h1.6v1.6h-1.6zM582.64 216.13h1.6v1.6h-1.6zM582.64 233.2h1.6v1.6h-1.6zM582.64 250.26h1.6v1.6h-1.6zM582.64 267.33h1.6v1.6h-1.6zM582.64 284.39h1.6v1.6h-1.6zM582.64 301.46h1.6v1.6h-1.6zM582.64 318.53h1.6v1.6h-1.6zM582.64 335.59h1.6v1.6h-1.6zM582.64 352.66h1.6v1.6h-1.6zM582.64 369.72h1.6v1.6h-1.6zM582.64 386.79h1.6v1.6h-1.6zM582.64 403.86h1.6v1.6h-1.6zM582.64 420.92h1.6v1.6h-1.6zM582.64 437.99h1.6v1.6h-1.6zM582.64 455.05h1.6v1.6h-1.6zM582.64 472.12h1.6v1.6h-1.6zM582.64 489.19h1.6v1.6h-1.6zM582.64 506.25h1.6v1.6h-1.6zM582.64 523.32h1.6v1.6h-1.6zM582.64 540.38h1.6v1.6h-1.6zM582.64 557.45h1.6v1.6h-1.6zM582.64 574.52h1.6v1.6h-1.6zM582.64 591.58h1.6v1.6h-1.6zM582.64 608.65h1.6v1.6h-1.6zM582.64 625.71h1.6v1.6h-1.6zM582.64 642.78h1.6v1.6h-1.6zM582.64 659.85h1.6v1.6h-1.6zM599.71 45.47h1.6v1.6h-1.6zM599.71 62.54h1.6v1.6h-1.6zM599.71 79.6h1.6v1.6h-1.6zM599.71 96.67h1.6v1.6h-1.6zM599.71 113.73h1.6v1.6h-1.6zM599.71 130.8h1.6v1.6h-1.6zM599.71 147.87h1.6v1.6h-1.6zM599.71 164.93h1.6v1.6h-1.6zM599.71 182h1.6v1.6h-1.6zM599.71 199.06h1.6v1.6h-1.6zM599.71 216.13h1.6v1.6h-1.6zM599.71 233.2h1.6v1.6h-1.6zM599.71 250.26h1.6v1.6h-1.6zM599.71 267.33h1.6v1.6h-1.6zM599.71 284.39h1.6v1.6h-1.6zM599.71 301.46h1.6v1.6h-1.6zM599.71 318.53h1.6v1.6h-1.6zM599.71 335.59h1.6v1.6h-1.6zM599.71 352.66h1.6v1.6h-1.6zM599.71 369.72h1.6v1.6h-1.6zM599.71 386.79h1.6v1.6h-1.6zM599.71 403.86h1.6v1.6h-1.6zM599.71 420.92h1.6v1.6h-1.6zM599.71 437.99h1.6v1.6h-1.6zM599.71 455.05h1.6v1.6h-1.6zM599.71 472.12h1.6v1.6h-1.6zM599.71 489.19h1.6v1.6h-1.6zM599.71 506.25h1.6v1.6h-1.6zM599.71 523.32h1.6v1.6h-1.6zM599.71 540.38h1.6v1.6h-1.6zM599.71 557.45h1.6v1.6h-1.6zM599.71 574.52h1.6v1.6h-1.6zM599.71 591.58h1.6v1.6h-1.6zM599.71 608.65h1.6v1.6h-1.6zM599.71 625.71h1.6v1.6h-1.6zM599.71 642.78h1.6v1.6h-1.6zM599.71 659.85h1.6v1.6h-1.6zM616.78 45.47h1.6v1.6h-1.6zM616.78 62.54h1.6v1.6h-1.6zM616.78 79.6h1.6v1.6h-1.6zM616.78 96.67h1.6v1.6h-1.6zM616.78 113.73h1.6v1.6h-1.6zM616.78 130.8h1.6v1.6h-1.6zM616.78 147.87h1.6v1.6h-1.6zM616.78 164.93h1.6v1.6h-1.6zM616.78 182h1.6v1.6h-1.6zM616.78 199.06h1.6v1.6h-1.6zM616.78 216.13h1.6v1.6h-1.6zM616.78 233.2h1.6v1.6h-1.6zM616.78 250.26h1.6v1.6h-1.6zM616.78 267.33h1.6v1.6h-1.6zM616.78 284.39h1.6v1.6h-1.6zM616.78 301.46h1.6v1.6h-1.6zM616.78 318.53h1.6v1.6h-1.6zM616.78 335.59h1.6v1.6h-1.6zM616.78 352.66h1.6v1.6h-1.6zM616.78 369.72h1.6v1.6h-1.6zM616.78 386.79h1.6v1.6h-1.6zM616.78 403.86h1.6v1.6h-1.6zM616.78 420.92h1.6v1.6h-1.6zM616.78 437.99h1.6v1.6h-1.6zM616.78 455.05h1.6v1.6h-1.6zM616.78 472.12h1.6v1.6h-1.6zM616.78 489.19h1.6v1.6h-1.6zM616.78 506.25h1.6v1.6h-1.6zM616.78 523.32h1.6v1.6h-1.6zM616.78 540.38h1.6v1.6h-1.6zM616.78 557.45h1.6v1.6h-1.6zM616.78 574.52h1.6v1.6h-1.6zM616.78 591.58h1.6v1.6h-1.6zM616.78 608.65h1.6v1.6h-1.6zM616.78 625.71h1.6v1.6h-1.6zM616.78 642.78h1.6v1.6h-1.6zM616.78 659.85h1.6v1.6h-1.6zM633.84 45.47h1.6v1.6h-1.6zM633.84 62.54h1.6v1.6h-1.6zM633.84 79.6h1.6v1.6h-1.6zM633.84 96.67h1.6v1.6h-1.6zM633.84 113.73h1.6v1.6h-1.6zM633.84 130.8h1.6v1.6h-1.6zM633.84 147.87h1.6v1.6h-1.6zM633.84 164.93h1.6v1.6h-1.6zM633.84 182h1.6v1.6h-1.6zM633.84 199.06h1.6v1.6h-1.6zM633.84 216.13h1.6v1.6h-1.6zM633.84 233.2h1.6v1.6h-1.6zM633.84 250.26h1.6v1.6h-1.6zM633.84 267.33h1.6v1.6h-1.6zM633.84 284.39h1.6v1.6h-1.6zM633.84 301.46h1.6v1.6h-1.6zM633.84 318.53h1.6v1.6h-1.6zM633.84 335.59h1.6v1.6h-1.6zM633.84 352.66h1.6v1.6h-1.6zM633.84 369.72h1.6v1.6h-1.6zM633.84 386.79h1.6v1.6h-1.6zM633.84 403.86h1.6v1.6h-1.6zM633.84 420.92h1.6v1.6h-1.6zM633.84 437.99h1.6v1.6h-1.6zM633.84 455.05h1.6v1.6h-1.6zM633.84 472.12h1.6v1.6h-1.6zM633.84 489.19h1.6v1.6h-1.6zM633.84 506.25h1.6v1.6h-1.6zM633.84 523.32h1.6v1.6h-1.6zM633.84 540.38h1.6v1.6h-1.6zM633.84 557.45h1.6v1.6h-1.6zM633.84 574.52h1.6v1.6h-1.6zM633.84 591.58h1.6v1.6h-1.6zM633.84 608.65h1.6v1.6h-1.6zM633.84 625.71h1.6v1.6h-1.6zM633.84 642.78h1.6v1.6h-1.6zM633.84 659.85h1.6v1.6h-1.6zM650.91 45.47h1.6v1.6h-1.6zM650.91 62.54h1.6v1.6h-1.6zM650.91 79.6h1.6v1.6h-1.6zM650.91 96.67h1.6v1.6h-1.6zM650.91 113.73h1.6v1.6h-1.6zM650.91 130.8h1.6v1.6h-1.6zM650.91 147.87h1.6v1.6h-1.6zM650.91 164.93h1.6v1.6h-1.6zM650.91 182h1.6v1.6h-1.6zM650.91 199.06h1.6v1.6h-1.6zM650.91 216.13h1.6v1.6h-1.6zM650.91 233.2h1.6v1.6h-1.6zM650.91 250.26h1.6v1.6h-1.6zM650.91 267.33h1.6v1.6h-1.6zM650.91 284.39h1.6v1.6h-1.6zM650.91 301.46h1.6v1.6h-1.6zM650.91 318.53h1.6v1.6h-1.6zM650.91 335.59h1.6v1.6h-1.6zM650.91 352.66h1.6v1.6h-1.6zM650.91 369.72h1.6v1.6h-1.6zM650.91 386.79h1.6v1.6h-1.6zM650.91 403.86h1.6v1.6h-1.6zM650.91 420.92h1.6v1.6h-1.6zM650.91 437.99h1.6v1.6h-1.6zM650.91 455.05h1.6v1.6h-1.6zM650.91 472.12h1.6v1.6h-1.6zM650.91 489.19h1.6v1.6h-1.6zM650.91 506.25h1.6v1.6h-1.6zM650.91 523.32h1.6v1.6h-1.6zM650.91 540.38h1.6v1.6h-1.6zM650.91 557.45h1.6v1.6h-1.6zM650.91 574.52h1.6v1.6h-1.6zM650.91 591.58h1.6v1.6h-1.6zM650.91 608.65h1.6v1.6h-1.6zM650.91 625.71h1.6v1.6h-1.6zM650.91 642.78h1.6v1.6h-1.6zM650.91 659.85h1.6v1.6h-1.6zM667.97 45.47h1.6v1.6h-1.6zM667.97 62.54h1.6v1.6h-1.6zM667.97 79.6h1.6v1.6h-1.6zM667.97 96.67h1.6v1.6h-1.6zM667.97 113.73h1.6v1.6h-1.6zM667.97 130.8h1.6v1.6h-1.6zM667.97 147.87h1.6v1.6h-1.6zM667.97 164.93h1.6v1.6h-1.6zM667.97 182h1.6v1.6h-1.6zM667.97 199.06h1.6v1.6h-1.6zM667.97 216.13h1.6v1.6h-1.6zM667.97 233.2h1.6v1.6h-1.6zM667.97 250.26h1.6v1.6h-1.6zM667.97 267.33h1.6v1.6h-1.6zM667.97 284.39h1.6v1.6h-1.6zM667.97 301.46h1.6v1.6h-1.6zM667.97 318.53h1.6v1.6h-1.6zM667.97 335.59h1.6v1.6h-1.6zM667.97 352.66h1.6v1.6h-1.6zM667.97 369.72h1.6v1.6h-1.6zM667.97 386.79h1.6v1.6h-1.6zM667.97 403.86h1.6v1.6h-1.6zM667.97 420.92h1.6v1.6h-1.6zM667.97 437.99h1.6v1.6h-1.6zM667.97 455.05h1.6v1.6h-1.6zM667.97 472.12h1.6v1.6h-1.6zM667.97 489.19h1.6v1.6h-1.6zM667.97 506.25h1.6v1.6h-1.6zM667.97 523.32h1.6v1.6h-1.6zM667.97 540.38h1.6v1.6h-1.6zM667.97 557.45h1.6v1.6h-1.6zM667.97 574.52h1.6v1.6h-1.6zM667.97 591.58h1.6v1.6h-1.6zM667.97 608.65h1.6v1.6h-1.6zM667.97 625.71h1.6v1.6h-1.6zM667.97 642.78h1.6v1.6h-1.6zM667.97 659.85h1.6v1.6h-1.6zM685.04 45.47h1.6v1.6h-1.6zM685.04 62.54h1.6v1.6h-1.6zM685.04 79.6h1.6v1.6h-1.6zM685.04 96.67h1.6v1.6h-1.6zM685.04 113.73h1.6v1.6h-1.6zM685.04 130.8h1.6v1.6h-1.6zM685.04 147.87h1.6v1.6h-1.6zM685.04 164.93h1.6v1.6h-1.6zM685.04 182h1.6v1.6h-1.6zM685.04 199.06h1.6v1.6h-1.6zM685.04 216.13h1.6v1.6h-1.6zM685.04 233.2h1.6v1.6h-1.6zM685.04 250.26h1.6v1.6h-1.6zM685.04 267.33h1.6v1.6h-1.6zM685.04 284.39h1.6v1.6h-1.6zM685.04 301.46h1.6v1.6h-1.6zM685.04 318.53h1.6v1.6h-1.6zM685.04 335.59h1.6v1.6h-1.6zM685.04 352.66h1.6v1.6h-1.6zM685.04 369.72h1.6v1.6h-1.6zM685.04 386.79h1.6v1.6h-1.6zM685.04 403.86h1.6v1.6h-1.6zM685.04 420.92h1.6v1.6h-1.6zM685.04 437.99h1.6v1.6h-1.6zM685.04 455.05h1.6v1.6h-1.6zM685.04 472.12h1.6v1.6h-1.6zM685.04 489.19h1.6v1.6h-1.6zM685.04 506.25h1.6v1.6h-1.6zM685.04 523.32h1.6v1.6h-1.6zM685.04 540.38h1.6v1.6h-1.6zM685.04 557.45h1.6v1.6h-1.6zM685.04 574.52h1.6v1.6h-1.6zM685.04 591.58h1.6v1.6h-1.6zM685.04 608.65h1.6v1.6h-1.6zM685.04 625.71h1.6v1.6h-1.6zM685.04 642.78h1.6v1.6h-1.6zM685.04 659.85h1.6v1.6h-1.6zM702.11 45.47h1.6v1.6h-1.6zM702.11 62.54h1.6v1.6h-1.6zM702.11 79.6h1.6v1.6h-1.6zM702.11 96.67h1.6v1.6h-1.6zM702.11 113.73h1.6v1.6h-1.6zM702.11 130.8h1.6v1.6h-1.6zM702.11 147.87h1.6v1.6h-1.6zM702.11 164.93h1.6v1.6h-1.6zM702.11 182h1.6v1.6h-1.6zM702.11 199.06h1.6v1.6h-1.6zM702.11 216.13h1.6v1.6h-1.6zM702.11 233.2h1.6v1.6h-1.6zM702.11 250.26h1.6v1.6h-1.6zM702.11 267.33h1.6v1.6h-1.6zM702.11 284.39h1.6v1.6h-1.6zM702.11 301.46h1.6v1.6h-1.6zM702.11 318.53h1.6v1.6h-1.6zM702.11 335.59h1.6v1.6h-1.6zM702.11 352.66h1.6v1.6h-1.6zM702.11 369.72h1.6v1.6h-1.6zM702.11 386.79h1.6v1.6h-1.6zM702.11 403.86h1.6v1.6h-1.6zM702.11 420.92h1.6v1.6h-1.6zM702.11 437.99h1.6v1.6h-1.6zM702.11 455.05h1.6v1.6h-1.6zM702.11 472.12h1.6v1.6h-1.6zM702.11 489.19h1.6v1.6h-1.6zM702.11 506.25h1.6v1.6h-1.6zM702.11 523.32h1.6v1.6h-1.6zM702.11 540.38h1.6v1.6h-1.6zM702.11 557.45h1.6v1.6h-1.6zM702.11 574.52h1.6v1.6h-1.6zM702.11 591.58h1.6v1.6h-1.6zM702.11 608.65h1.6v1.6h-1.6zM702.11 625.71h1.6v1.6h-1.6zM702.11 642.78h1.6v1.6h-1.6zM702.11 659.85h1.6v1.6h-1.6zM719.17 45.47h1.6v1.6h-1.6zM719.17 62.54h1.6v1.6h-1.6zM719.17 79.6h1.6v1.6h-1.6zM719.17 96.67h1.6v1.6h-1.6zM719.17 113.73h1.6v1.6h-1.6zM719.17 130.8h1.6v1.6h-1.6zM719.17 147.87h1.6v1.6h-1.6zM719.17 164.93h1.6v1.6h-1.6zM719.17 182h1.6v1.6h-1.6zM719.17 199.06h1.6v1.6h-1.6zM719.17 216.13h1.6v1.6h-1.6zM719.17 233.2h1.6v1.6h-1.6zM719.17 250.26h1.6v1.6h-1.6zM719.17 267.33h1.6v1.6h-1.6zM719.17 284.39h1.6v1.6h-1.6zM719.17 301.46h1.6v1.6h-1.6zM719.17 318.53h1.6v1.6h-1.6zM719.17 335.59h1.6v1.6h-1.6zM719.17 352.66h1.6v1.6h-1.6zM719.17 369.72h1.6v1.6h-1.6zM719.17 386.79h1.6v1.6h-1.6zM719.17 403.86h1.6v1.6h-1.6zM719.17 420.92h1.6v1.6h-1.6zM719.17 437.99h1.6v1.6h-1.6zM719.17 455.05h1.6v1.6h-1.6zM719.17 472.12h1.6v1.6h-1.6zM719.17 489.19h1.6v1.6h-1.6zM719.17 506.25h1.6v1.6h-1.6zM719.17 523.32h1.6v1.6h-1.6zM719.17 540.38h1.6v1.6h-1.6zM719.17 557.45h1.6v1.6h-1.6zM719.17 574.52h1.6v1.6h-1.6zM719.17 591.58h1.6v1.6h-1.6zM719.17 608.65h1.6v1.6h-1.6zM719.17 625.71h1.6v1.6h-1.6zM719.17 642.78h1.6v1.6h-1.6zM719.17 659.85h1.6v1.6h-1.6zM736.24 45.47h1.6v1.6h-1.6zM736.24 62.54h1.6v1.6h-1.6zM736.24 79.6h1.6v1.6h-1.6zM736.24 96.67h1.6v1.6h-1.6zM736.24 113.73h1.6v1.6h-1.6zM736.24 130.8h1.6v1.6h-1.6zM736.24 147.87h1.6v1.6h-1.6zM736.24 164.93h1.6v1.6h-1.6zM736.24 182h1.6v1.6h-1.6zM736.24 199.06h1.6v1.6h-1.6zM736.24 216.13h1.6v1.6h-1.6zM736.24 233.2h1.6v1.6h-1.6zM736.24 250.26h1.6v1.6h-1.6zM736.24 267.33h1.6v1.6h-1.6zM736.24 284.39h1.6v1.6h-1.6zM736.24 301.46h1.6v1.6h-1.6zM736.24 318.53h1.6v1.6h-1.6zM736.24 335.59h1.6v1.6h-1.6zM736.24 352.66h1.6v1.6h-1.6zM736.24 369.72h1.6v1.6h-1.6zM736.24 386.79h1.6v1.6h-1.6zM736.24 403.86h1.6v1.6h-1.6zM736.24 420.92h1.6v1.6h-1.6zM736.24 437.99h1.6v1.6h-1.6zM736.24 455.05h1.6v1.6h-1.6zM736.24 472.12h1.6v1.6h-1.6zM736.24 489.19h1.6v1.6h-1.6zM736.24 506.25h1.6v1.6h-1.6zM736.24 523.32h1.6v1.6h-1.6zM736.24 540.38h1.6v1.6h-1.6zM736.24 557.45h1.6v1.6h-1.6zM736.24 574.52h1.6v1.6h-1.6zM736.24 591.58h1.6v1.6h-1.6zM736.24 608.65h1.6v1.6h-1.6zM736.24 625.71h1.6v1.6h-1.6zM736.24 642.78h1.6v1.6h-1.6zM736.24 659.85h1.6v1.6h-1.6zM753.3 45.47h1.6v1.6h-1.6zM753.3 62.54h1.6v1.6h-1.6zM753.3 79.6h1.6v1.6h-1.6zM753.3 96.67h1.6v1.6h-1.6zM753.3 113.73h1.6v1.6h-1.6zM753.3 130.8h1.6v1.6h-1.6zM753.3 147.87h1.6v1.6h-1.6zM753.3 164.93h1.6v1.6h-1.6zM753.3 182h1.6v1.6h-1.6zM753.3 199.06h1.6v1.6h-1.6zM753.3 216.13h1.6v1.6h-1.6zM753.3 233.2h1.6v1.6h-1.6zM753.3 250.26h1.6v1.6h-1.6zM753.3 267.33h1.6v1.6h-1.6zM753.3 284.39h1.6v1.6h-1.6zM753.3 301.46h1.6v1.6h-1.6zM753.3 318.53h1.6v1.6h-1.6zM753.3 335.59h1.6v1.6h-1.6zM753.3 352.66h1.6v1.6h-1.6zM753.3 369.72h1.6v1.6h-1.6zM753.3 386.79h1.6v1.6h-1.6zM753.3 403.86h1.6v1.6h-1.6zM753.3 420.92h1.6v1.6h-1.6zM753.3 437.99h1.6v1.6h-1.6zM753.3 455.05h1.6v1.6h-1.6zM753.3 472.12h1.6v1.6h-1.6zM753.3 489.19h1.6v1.6h-1.6zM753.3 506.25h1.6v1.6h-1.6zM753.3 523.32h1.6v1.6h-1.6zM753.3 540.38h1.6v1.6h-1.6zM753.3 557.45h1.6v1.6h-1.6zM753.3 574.52h1.6v1.6h-1.6zM753.3 591.58h1.6v1.6h-1.6zM753.3 608.65h1.6v1.6h-1.6zM753.3 625.71h1.6v1.6h-1.6zM753.3 642.78h1.6v1.6h-1.6zM753.3 659.85h1.6v1.6h-1.6zM770.37 45.47h1.6v1.6h-1.6zM770.37 62.54h1.6v1.6h-1.6zM770.37 79.6h1.6v1.6h-1.6zM770.37 96.67h1.6v1.6h-1.6zM770.37 113.73h1.6v1.6h-1.6zM770.37 130.8h1.6v1.6h-1.6zM770.37 147.87h1.6v1.6h-1.6zM770.37 164.93h1.6v1.6h-1.6zM770.37 182h1.6v1.6h-1.6zM770.37 199.06h1.6v1.6h-1.6zM770.37 216.13h1.6v1.6h-1.6zM770.37 233.2h1.6v1.6h-1.6zM770.37 250.26h1.6v1.6h-1.6zM770.37 267.33h1.6v1.6h-1.6zM770.37 284.39h1.6v1.6h-1.6zM770.37 301.46h1.6v1.6h-1.6zM770.37 318.53h1.6v1.6h-1.6zM770.37 335.59h1.6v1.6h-1.6zM770.37 352.66h1.6v1.6h-1.6zM770.37 369.72h1.6v1.6h-1.6zM770.37 386.79h1.6v1.6h-1.6zM770.37 403.86h1.6v1.6h-1.6zM770.37 420.92h1.6v1.6h-1.6zM770.37 437.99h1.6v1.6h-1.6zM770.37 455.05h1.6v1.6h-1.6zM770.37 472.12h1.6v1.6h-1.6zM770.37 489.19h1.6v1.6h-1.6zM770.37 506.25h1.6v1.6h-1.6zM770.37 523.32h1.6v1.6h-1.6zM770.37 540.38h1.6v1.6h-1.6zM770.37 557.45h1.6v1.6h-1.6zM770.37 574.52h1.6v1.6h-1.6zM770.37 591.58h1.6v1.6h-1.6zM770.37 608.65h1.6v1.6h-1.6zM770.37 625.71h1.6v1.6h-1.6zM770.37 642.78h1.6v1.6h-1.6zM770.37 659.85h1.6v1.6h-1.6zM787.44 45.47h1.6v1.6h-1.6zM787.44 62.54h1.6v1.6h-1.6zM787.44 79.6h1.6v1.6h-1.6zM787.44 96.67h1.6v1.6h-1.6zM787.44 113.73h1.6v1.6h-1.6zM787.44 130.8h1.6v1.6h-1.6zM787.44 147.87h1.6v1.6h-1.6zM787.44 164.93h1.6v1.6h-1.6zM787.44 182h1.6v1.6h-1.6zM787.44 199.06h1.6v1.6h-1.6zM787.44 216.13h1.6v1.6h-1.6zM787.44 233.2h1.6v1.6h-1.6zM787.44 250.26h1.6v1.6h-1.6zM787.44 267.33h1.6v1.6h-1.6zM787.44 284.39h1.6v1.6h-1.6zM787.44 301.46h1.6v1.6h-1.6zM787.44 318.53h1.6v1.6h-1.6zM787.44 335.59h1.6v1.6h-1.6zM787.44 352.66h1.6v1.6h-1.6zM787.44 369.72h1.6v1.6h-1.6zM787.44 386.79h1.6v1.6h-1.6zM787.44 403.86h1.6v1.6h-1.6zM787.44 420.92h1.6v1.6h-1.6zM787.44 437.99h1.6v1.6h-1.6zM787.44 455.05h1.6v1.6h-1.6zM787.44 472.12h1.6v1.6h-1.6zM787.44 489.19h1.6v1.6h-1.6zM787.44 506.25h1.6v1.6h-1.6zM787.44 523.32h1.6v1.6h-1.6zM787.44 540.38h1.6v1.6h-1.6zM787.44 557.45h1.6v1.6h-1.6zM787.44 574.52h1.6v1.6h-1.6zM787.44 591.58h1.6v1.6h-1.6zM787.44 608.65h1.6v1.6h-1.6zM787.44 625.71h1.6v1.6h-1.6zM787.44 642.78h1.6v1.6h-1.6zM787.44 659.85h1.6v1.6h-1.6zM804.5 45.47h1.6v1.6h-1.6zM804.5 62.54h1.6v1.6h-1.6zM804.5 79.6h1.6v1.6h-1.6zM804.5 96.67h1.6v1.6h-1.6zM804.5 113.73h1.6v1.6h-1.6zM804.5 130.8h1.6v1.6h-1.6zM804.5 147.87h1.6v1.6h-1.6zM804.5 164.93h1.6v1.6h-1.6zM804.5 182h1.6v1.6h-1.6zM804.5 199.06h1.6v1.6h-1.6zM804.5 216.13h1.6v1.6h-1.6zM804.5 233.2h1.6v1.6h-1.6zM804.5 250.26h1.6v1.6h-1.6zM804.5 267.33h1.6v1.6h-1.6zM804.5 284.39h1.6v1.6h-1.6zM804.5 301.46h1.6v1.6h-1.6zM804.5 318.53h1.6v1.6h-1.6zM804.5 335.59h1.6v1.6h-1.6zM804.5 352.66h1.6v1.6h-1.6zM804.5 369.72h1.6v1.6h-1.6zM804.5 386.79h1.6v1.6h-1.6zM804.5 403.86h1.6v1.6h-1.6zM804.5 420.92h1.6v1.6h-1.6zM804.5 437.99h1.6v1.6h-1.6zM804.5 455.05h1.6v1.6h-1.6zM804.5 472.12h1.6v1.6h-1.6zM804.5 489.19h1.6v1.6h-1.6zM804.5 506.25h1.6v1.6h-1.6zM804.5 523.32h1.6v1.6h-1.6zM804.5 540.38h1.6v1.6h-1.6zM804.5 557.45h1.6v1.6h-1.6zM804.5 574.52h1.6v1.6h-1.6zM804.5 591.58h1.6v1.6h-1.6zM804.5 608.65h1.6v1.6h-1.6zM804.5 625.71h1.6v1.6h-1.6zM804.5 642.78h1.6v1.6h-1.6zM804.5 659.85h1.6v1.6h-1.6zM821.57 45.47h1.6v1.6h-1.6zM821.57 62.54h1.6v1.6h-1.6zM821.57 79.6h1.6v1.6h-1.6zM821.57 96.67h1.6v1.6h-1.6zM821.57 113.73h1.6v1.6h-1.6zM821.57 130.8h1.6v1.6h-1.6zM821.57 147.87h1.6v1.6h-1.6zM821.57 164.93h1.6v1.6h-1.6zM821.57 182h1.6v1.6h-1.6zM821.57 199.06h1.6v1.6h-1.6zM821.57 216.13h1.6v1.6h-1.6zM821.57 233.2h1.6v1.6h-1.6zM821.57 250.26h1.6v1.6h-1.6zM821.57 267.33h1.6v1.6h-1.6zM821.57 284.39h1.6v1.6h-1.6zM821.57 301.46h1.6v1.6h-1.6zM821.57 318.53h1.6v1.6h-1.6zM821.57 335.59h1.6v1.6h-1.6zM821.57 352.66h1.6v1.6h-1.6zM821.57 369.72h1.6v1.6h-1.6zM821.57 386.79h1.6v1.6h-1.6zM821.57 403.86h1.6v1.6h-1.6zM821.57 420.92h1.6v1.6h-1.6zM821.57 437.99h1.6v1.6h-1.6zM821.57 455.05h1.6v1.6h-1.6zM821.57 472.12h1.6v1.6h-1.6zM821.57 489.19h1.6v1.6h-1.6zM821.57 506.25h1.6v1.6h-1.6zM821.57 523.32h1.6v1.6h-1.6zM821.57 540.38h1.6v1.6h-1.6zM821.57 557.45h1.6v1.6h-1.6zM821.57 574.52h1.6v1.6h-1.6zM821.57 591.58h1.6v1.6h-1.6zM821.57 608.65h1.6v1.6h-1.6zM821.57 625.71h1.6v1.6h-1.6zM821.57 642.78h1.6v1.6h-1.6zM821.57 659.85h1.6v1.6h-1.6zM838.63 45.47h1.6v1.6h-1.6zM838.63 62.54h1.6v1.6h-1.6zM838.63 79.6h1.6v1.6h-1.6zM838.63 96.67h1.6v1.6h-1.6zM838.63 113.73h1.6v1.6h-1.6zM838.63 130.8h1.6v1.6h-1.6zM838.63 147.87h1.6v1.6h-1.6zM838.63 164.93h1.6v1.6h-1.6zM838.63 182h1.6v1.6h-1.6zM838.63 199.06h1.6v1.6h-1.6zM838.63 216.13h1.6v1.6h-1.6zM838.63 233.2h1.6v1.6h-1.6zM838.63 250.26h1.6v1.6h-1.6zM838.63 267.33h1.6v1.6h-1.6zM838.63 284.39h1.6v1.6h-1.6zM838.63 301.46h1.6v1.6h-1.6zM838.63 318.53h1.6v1.6h-1.6zM838.63 335.59h1.6v1.6h-1.6zM838.63 352.66h1.6v1.6h-1.6zM838.63 369.72h1.6v1.6h-1.6zM838.63 386.79h1.6v1.6h-1.6zM838.63 403.86h1.6v1.6h-1.6zM838.63 420.92h1.6v1.6h-1.6zM838.63 437.99h1.6v1.6h-1.6zM838.63 455.05h1.6v1.6h-1.6zM838.63 472.12h1.6v1.6h-1.6zM838.63 489.19h1.6v1.6h-1.6zM838.63 506.25h1.6v1.6h-1.6zM838.63 523.32h1.6v1.6h-1.6zM838.63 540.38h1.6v1.6h-1.6zM838.63 557.45h1.6v1.6h-1.6zM838.63 574.52h1.6v1.6h-1.6zM838.63 591.58h1.6v1.6h-1.6zM838.63 608.65h1.6v1.6h-1.6zM838.63 625.71h1.6v1.6h-1.6zM838.63 642.78h1.6v1.6h-1.6zM838.63 659.85h1.6v1.6h-1.6zM855.7 45.47h1.6v1.6h-1.6zM855.7 62.54h1.6v1.6h-1.6zM855.7 79.6h1.6v1.6h-1.6zM855.7 96.67h1.6v1.6h-1.6zM855.7 113.73h1.6v1.6h-1.6zM855.7 130.8h1.6v1.6h-1.6zM855.7 147.87h1.6v1.6h-1.6zM855.7 164.93h1.6v1.6h-1.6zM855.7 182h1.6v1.6h-1.6zM855.7 199.06h1.6v1.6h-1.6zM855.7 216.13h1.6v1.6h-1.6zM855.7 233.2h1.6v1.6h-1.6zM855.7 250.26h1.6v1.6h-1.6zM855.7 267.33h1.6v1.6h-1.6zM855.7 284.39h1.6v1.6h-1.6zM855.7 301.46h1.6v1.6h-1.6zM855.7 318.53h1.6v1.6h-1.6zM855.7 335.59h1.6v1.6h-1.6zM855.7 352.66h1.6v1.6h-1.6zM855.7 369.72h1.6v1.6h-1.6zM855.7 386.79h1.6v1.6h-1.6zM855.7 403.86h1.6v1.6h-1.6zM855.7 420.92h1.6v1.6h-1.6zM855.7 437.99h1.6v1.6h-1.6zM855.7 455.05h1.6v1.6h-1.6zM855.7 472.12h1.6v1.6h-1.6zM855.7 489.19h1.6v1.6h-1.6zM855.7 506.25h1.6v1.6h-1.6zM855.7 523.32h1.6v1.6h-1.6zM855.7 540.38h1.6v1.6h-1.6zM855.7 557.45h1.6v1.6h-1.6zM855.7 574.52h1.6v1.6h-1.6zM855.7 591.58h1.6v1.6h-1.6zM855.7 608.65h1.6v1.6h-1.6zM855.7 625.71h1.6v1.6h-1.6zM855.7 642.78h1.6v1.6h-1.6zM855.7 659.85h1.6v1.6h-1.6zM872.77 45.47h1.6v1.6h-1.6zM872.77 62.54h1.6v1.6h-1.6zM872.77 79.6h1.6v1.6h-1.6zM872.77 96.67h1.6v1.6h-1.6zM872.77 113.73h1.6v1.6h-1.6zM872.77 130.8h1.6v1.6h-1.6zM872.77 147.87h1.6v1.6h-1.6zM872.77 164.93h1.6v1.6h-1.6zM872.77 182h1.6v1.6h-1.6zM872.77 199.06h1.6v1.6h-1.6zM872.77 216.13h1.6v1.6h-1.6zM872.77 233.2h1.6v1.6h-1.6zM872.77 250.26h1.6v1.6h-1.6zM872.77 267.33h1.6v1.6h-1.6zM872.77 284.39h1.6v1.6h-1.6zM872.77 301.46h1.6v1.6h-1.6zM872.77 318.53h1.6v1.6h-1.6zM872.77 335.59h1.6v1.6h-1.6zM872.77 352.66h1.6v1.6h-1.6zM872.77 369.72h1.6v1.6h-1.6zM872.77 386.79h1.6v1.6h-1.6zM872.77 403.86h1.6v1.6h-1.6zM872.77 420.92h1.6v1.6h-1.6zM872.77 437.99h1.6v1.6h-1.6zM872.77 455.05h1.6v1.6h-1.6zM872.77 472.12h1.6v1.6h-1.6zM872.77 489.19h1.6v1.6h-1.6zM872.77 506.25h1.6v1.6h-1.6zM872.77 523.32h1.6v1.6h-1.6zM872.77 540.38h1.6v1.6h-1.6zM872.77 557.45h1.6v1.6h-1.6zM872.77 574.52h1.6v1.6h-1.6zM872.77 591.58h1.6v1.6h-1.6zM872.77 608.65h1.6v1.6h-1.6zM872.77 625.71h1.6v1.6h-1.6zM872.77 642.78h1.6v1.6h-1.6zM872.77 659.85h1.6v1.6h-1.6zM889.83 45.47h1.6v1.6h-1.6zM889.83 62.54h1.6v1.6h-1.6zM889.83 79.6h1.6v1.6h-1.6zM889.83 96.67h1.6v1.6h-1.6zM889.83 113.73h1.6v1.6h-1.6zM889.83 130.8h1.6v1.6h-1.6zM889.83 147.87h1.6v1.6h-1.6zM889.83 164.93h1.6v1.6h-1.6zM889.83 182h1.6v1.6h-1.6zM889.83 199.06h1.6v1.6h-1.6zM889.83 216.13h1.6v1.6h-1.6zM889.83 233.2h1.6v1.6h-1.6zM889.83 250.26h1.6v1.6h-1.6zM889.83 267.33h1.6v1.6h-1.6zM889.83 284.39h1.6v1.6h-1.6zM889.83 301.46h1.6v1.6h-1.6zM889.83 318.53h1.6v1.6h-1.6zM889.83 335.59h1.6v1.6h-1.6zM889.83 352.66h1.6v1.6h-1.6zM889.83 369.72h1.6v1.6h-1.6zM889.83 386.79h1.6v1.6h-1.6zM889.83 403.86h1.6v1.6h-1.6zM889.83 420.92h1.6v1.6h-1.6zM889.83 437.99h1.6v1.6h-1.6zM889.83 455.05h1.6v1.6h-1.6zM889.83 472.12h1.6v1.6h-1.6zM889.83 489.19h1.6v1.6h-1.6zM889.83 506.25h1.6v1.6h-1.6zM889.83 523.32h1.6v1.6h-1.6zM889.83 540.38h1.6v1.6h-1.6zM889.83 557.45h1.6v1.6h-1.6zM889.83 574.52h1.6v1.6h-1.6zM889.83 591.58h1.6v1.6h-1.6zM889.83 608.65h1.6v1.6h-1.6zM889.83 625.71h1.6v1.6h-1.6zM889.83 642.78h1.6v1.6h-1.6zM889.83 659.85h1.6v1.6h-1.6zM906.9 45.47h1.6v1.6h-1.6zM906.9 62.54h1.6v1.6h-1.6zM906.9 79.6h1.6v1.6h-1.6zM906.9 96.67h1.6v1.6h-1.6zM906.9 113.73h1.6v1.6h-1.6zM906.9 130.8h1.6v1.6h-1.6zM906.9 147.87h1.6v1.6h-1.6zM906.9 164.93h1.6v1.6h-1.6zM906.9 182h1.6v1.6h-1.6zM906.9 199.06h1.6v1.6h-1.6zM906.9 216.13h1.6v1.6h-1.6zM906.9 233.2h1.6v1.6h-1.6zM906.9 250.26h1.6v1.6h-1.6zM906.9 267.33h1.6v1.6h-1.6zM906.9 284.39h1.6v1.6h-1.6zM906.9 301.46h1.6v1.6h-1.6zM906.9 318.53h1.6v1.6h-1.6zM906.9 335.59h1.6v1.6h-1.6zM906.9 352.66h1.6v1.6h-1.6zM906.9 369.72h1.6v1.6h-1.6zM906.9 386.79h1.6v1.6h-1.6zM906.9 403.86h1.6v1.6h-1.6zM906.9 420.92h1.6v1.6h-1.6zM906.9 437.99h1.6v1.6h-1.6zM906.9 455.05h1.6v1.6h-1.6zM906.9 472.12h1.6v1.6h-1.6zM906.9 489.19h1.6v1.6h-1.6zM906.9 506.25h1.6v1.6h-1.6zM906.9 523.32h1.6v1.6h-1.6zM906.9 540.38h1.6v1.6h-1.6zM906.9 557.45h1.6v1.6h-1.6zM906.9 574.52h1.6v1.6h-1.6zM906.9 591.58h1.6v1.6h-1.6zM906.9 608.65h1.6v1.6h-1.6zM906.9 625.71h1.6v1.6h-1.6zM906.9 642.78h1.6v1.6h-1.6zM906.9 659.85h1.6v1.6h-1.6zM923.96 45.47h1.6v1.6h-1.6zM923.96 62.54h1.6v1.6h-1.6zM923.96 79.6h1.6v1.6h-1.6zM923.96 96.67h1.6v1.6h-1.6zM923.96 113.73h1.6v1.6h-1.6zM923.96 130.8h1.6v1.6h-1.6zM923.96 147.87h1.6v1.6h-1.6zM923.96 164.93h1.6v1.6h-1.6zM923.96 182h1.6v1.6h-1.6zM923.96 199.06h1.6v1.6h-1.6zM923.96 216.13h1.6v1.6h-1.6zM923.96 233.2h1.6v1.6h-1.6zM923.96 250.26h1.6v1.6h-1.6zM923.96 267.33h1.6v1.6h-1.6zM923.96 284.39h1.6v1.6h-1.6zM923.96 301.46h1.6v1.6h-1.6zM923.96 318.53h1.6v1.6h-1.6zM923.96 335.59h1.6v1.6h-1.6zM923.96 352.66h1.6v1.6h-1.6zM923.96 369.72h1.6v1.6h-1.6zM923.96 386.79h1.6v1.6h-1.6zM923.96 403.86h1.6v1.6h-1.6zM923.96 420.92h1.6v1.6h-1.6zM923.96 437.99h1.6v1.6h-1.6zM923.96 455.05h1.6v1.6h-1.6zM923.96 472.12h1.6v1.6h-1.6zM923.96 489.19h1.6v1.6h-1.6zM923.96 506.25h1.6v1.6h-1.6zM923.96 523.32h1.6v1.6h-1.6zM923.96 540.38h1.6v1.6h-1.6zM923.96 557.45h1.6v1.6h-1.6zM923.96 574.52h1.6v1.6h-1.6zM923.96 591.58h1.6v1.6h-1.6zM923.96 608.65h1.6v1.6h-1.6zM923.96 625.71h1.6v1.6h-1.6zM923.96 642.78h1.6v1.6h-1.6zM923.96 659.85h1.6v1.6h-1.6zM941.03 45.47h1.6v1.6h-1.6zM941.03 62.54h1.6v1.6h-1.6zM941.03 79.6h1.6v1.6h-1.6zM941.03 96.67h1.6v1.6h-1.6zM941.03 113.73h1.6v1.6h-1.6zM941.03 130.8h1.6v1.6h-1.6zM941.03 147.87h1.6v1.6h-1.6zM941.03 164.93h1.6v1.6h-1.6zM941.03 182h1.6v1.6h-1.6zM941.03 199.06h1.6v1.6h-1.6zM941.03 216.13h1.6v1.6h-1.6zM941.03 233.2h1.6v1.6h-1.6zM941.03 250.26h1.6v1.6h-1.6zM941.03 267.33h1.6v1.6h-1.6zM941.03 284.39h1.6v1.6h-1.6zM941.03 301.46h1.6v1.6h-1.6zM941.03 318.53h1.6v1.6h-1.6zM941.03 335.59h1.6v1.6h-1.6zM941.03 352.66h1.6v1.6h-1.6zM941.03 369.72h1.6v1.6h-1.6zM941.03 386.79h1.6v1.6h-1.6zM941.03 403.86h1.6v1.6h-1.6zM941.03 420.92h1.6v1.6h-1.6zM941.03 437.99h1.6v1.6h-1.6zM941.03 455.05h1.6v1.6h-1.6zM941.03 472.12h1.6v1.6h-1.6zM941.03 489.19h1.6v1.6h-1.6zM941.03 506.25h1.6v1.6h-1.6zM941.03 523.32h1.6v1.6h-1.6zM941.03 540.38h1.6v1.6h-1.6zM941.03 557.45h1.6v1.6h-1.6zM941.03 574.52h1.6v1.6h-1.6zM941.03 591.58h1.6v1.6h-1.6zM941.03 608.65h1.6v1.6h-1.6zM941.03 625.71h1.6v1.6h-1.6zM941.03 642.78h1.6v1.6h-1.6zM941.03 659.85h1.6v1.6h-1.6zM958.1 45.47h1.6v1.6h-1.6zM958.1 62.54h1.6v1.6h-1.6zM958.1 79.6h1.6v1.6h-1.6zM958.1 96.67h1.6v1.6h-1.6zM958.1 113.73h1.6v1.6h-1.6zM958.1 130.8h1.6v1.6h-1.6zM958.1 147.87h1.6v1.6h-1.6zM958.1 164.93h1.6v1.6h-1.6zM958.1 182h1.6v1.6h-1.6zM958.1 199.06h1.6v1.6h-1.6zM958.1 216.13h1.6v1.6h-1.6zM958.1 233.2h1.6v1.6h-1.6zM958.1 250.26h1.6v1.6h-1.6zM958.1 267.33h1.6v1.6h-1.6zM958.1 284.39h1.6v1.6h-1.6zM958.1 301.46h1.6v1.6h-1.6zM958.1 318.53h1.6v1.6h-1.6zM958.1 335.59h1.6v1.6h-1.6zM958.1 352.66h1.6v1.6h-1.6zM958.1 369.72h1.6v1.6h-1.6zM958.1 386.79h1.6v1.6h-1.6zM958.1 403.86h1.6v1.6h-1.6zM958.1 420.92h1.6v1.6h-1.6zM958.1 437.99h1.6v1.6h-1.6zM958.1 455.05h1.6v1.6h-1.6zM958.1 472.12h1.6v1.6h-1.6zM958.1 489.19h1.6v1.6h-1.6zM958.1 506.25h1.6v1.6h-1.6zM958.1 523.32h1.6v1.6h-1.6zM958.1 540.38h1.6v1.6h-1.6zM958.1 557.45h1.6v1.6h-1.6zM958.1 574.52h1.6v1.6h-1.6zM958.1 591.58h1.6v1.6h-1.6zM958.1 608.65h1.6v1.6h-1.6zM958.1 625.71h1.6v1.6h-1.6zM958.1 642.78h1.6v1.6h-1.6zM958.1 659.85h1.6v1.6h-1.6zM975.16 45.47h1.6v1.6h-1.6zM975.16 62.54h1.6v1.6h-1.6zM975.16 79.6h1.6v1.6h-1.6zM975.16 96.67h1.6v1.6h-1.6zM975.16 113.73h1.6v1.6h-1.6zM975.16 130.8h1.6v1.6h-1.6zM975.16 147.87h1.6v1.6h-1.6zM975.16 164.93h1.6v1.6h-1.6zM975.16 182h1.6v1.6h-1.6zM975.16 199.06h1.6v1.6h-1.6zM975.16 216.13h1.6v1.6h-1.6zM975.16 233.2h1.6v1.6h-1.6zM975.16 250.26h1.6v1.6h-1.6zM975.16 267.33h1.6v1.6h-1.6zM975.16 284.39h1.6v1.6h-1.6zM975.16 301.46h1.6v1.6h-1.6zM975.16 318.53h1.6v1.6h-1.6zM975.16 335.59h1.6v1.6h-1.6zM975.16 352.66h1.6v1.6h-1.6zM975.16 369.72h1.6v1.6h-1.6zM975.16 386.79h1.6v1.6h-1.6zM975.16 403.86h1.6v1.6h-1.6zM975.16 420.92h1.6v1.6h-1.6zM975.16 437.99h1.6v1.6h-1.6zM975.16 455.05h1.6v1.6h-1.6zM975.16 472.12h1.6v1.6h-1.6zM975.16 489.19h1.6v1.6h-1.6zM975.16 506.25h1.6v1.6h-1.6zM975.16 523.32h1.6v1.6h-1.6zM975.16 540.38h1.6v1.6h-1.6zM975.16 557.45h1.6v1.6h-1.6zM975.16 574.52h1.6v1.6h-1.6zM975.16 591.58h1.6v1.6h-1.6zM975.16 608.65h1.6v1.6h-1.6zM975.16 625.71h1.6v1.6h-1.6zM975.16 642.78h1.6v1.6h-1.6zM975.16 659.85h1.6v1.6h-1.6zM992.23 45.47h1.6v1.6h-1.6zM992.23 62.54h1.6v1.6h-1.6zM992.23 79.6h1.6v1.6h-1.6zM992.23 96.67h1.6v1.6h-1.6zM992.23 113.73h1.6v1.6h-1.6zM992.23 130.8h1.6v1.6h-1.6zM992.23 147.87h1.6v1.6h-1.6zM992.23 164.93h1.6v1.6h-1.6zM992.23 182h1.6v1.6h-1.6zM992.23 199.06h1.6v1.6h-1.6zM992.23 216.13h1.6v1.6h-1.6zM992.23 233.2h1.6v1.6h-1.6zM992.23 250.26h1.6v1.6h-1.6zM992.23 267.33h1.6v1.6h-1.6zM992.23 284.39h1.6v1.6h-1.6zM992.23 301.46h1.6v1.6h-1.6zM992.23 318.53h1.6v1.6h-1.6zM992.23 335.59h1.6v1.6h-1.6zM992.23 352.66h1.6v1.6h-1.6zM992.23 369.72h1.6v1.6h-1.6zM992.23 386.79h1.6v1.6h-1.6zM992.23 403.86h1.6v1.6h-1.6zM992.23 420.92h1.6v1.6h-1.6zM992.23 437.99h1.6v1.6h-1.6zM992.23 455.05h1.6v1.6h-1.6zM992.23 472.12h1.6v1.6h-1.6zM992.23 489.19h1.6v1.6h-1.6zM992.23 506.25h1.6v1.6h-1.6zM992.23 523.32h1.6v1.6h-1.6zM992.23 540.38h1.6v1.6h-1.6zM992.23 557.45h1.6v1.6h-1.6zM992.23 574.52h1.6v1.6h-1.6zM992.23 591.58h1.6v1.6h-1.6zM992.23 608.65h1.6v1.6h-1.6zM992.23 625.71h1.6v1.6h-1.6zM992.23 642.78h1.6v1.6h-1.6zM992.23 659.85h1.6v1.6h-1.6zM1009.29 45.47h1.6v1.6h-1.6zM1009.29 62.54h1.6v1.6h-1.6zM1009.29 79.6h1.6v1.6h-1.6zM1009.29 96.67h1.6v1.6h-1.6zM1009.29 113.73h1.6v1.6h-1.6zM1009.29 130.8h1.6v1.6h-1.6zM1009.29 147.87h1.6v1.6h-1.6zM1009.29 164.93h1.6v1.6h-1.6zM1009.29 182h1.6v1.6h-1.6zM1009.29 199.06h1.6v1.6h-1.6zM1009.29 216.13h1.6v1.6h-1.6zM1009.29 233.2h1.6v1.6h-1.6zM1009.29 250.26h1.6v1.6h-1.6zM1009.29 267.33h1.6v1.6h-1.6zM1009.29 284.39h1.6v1.6h-1.6zM1009.29 301.46h1.6v1.6h-1.6zM1009.29 318.53h1.6v1.6h-1.6zM1009.29 335.59h1.6v1.6h-1.6zM1009.29 352.66h1.6v1.6h-1.6zM1009.29 369.72h1.6v1.6h-1.6zM1009.29 386.79h1.6v1.6h-1.6zM1009.29 403.86h1.6v1.6h-1.6zM1009.29 420.92h1.6v1.6h-1.6zM1009.29 437.99h1.6v1.6h-1.6zM1009.29 455.05h1.6v1.6h-1.6zM1009.29 472.12h1.6v1.6h-1.6zM1009.29 489.19h1.6v1.6h-1.6zM1009.29 506.25h1.6v1.6h-1.6zM1009.29 523.32h1.6v1.6h-1.6zM1009.29 540.38h1.6v1.6h-1.6zM1009.29 557.45h1.6v1.6h-1.6zM1009.29 574.52h1.6v1.6h-1.6zM1009.29 591.58h1.6v1.6h-1.6zM1009.29 608.65h1.6v1.6h-1.6zM1009.29 625.71h1.6v1.6h-1.6zM1009.29 642.78h1.6v1.6h-1.6zM1009.29 659.85h1.6v1.6h-1.6z" fill="#acacac"/>
<rect x="106.6" y="157.2" width="83.33" height="68.26" fill="#fefec4" stroke="#000" stroke-width="3.2"/>
<polyline points="105.6,178.4 112.4,182.8 105.6,187.2" fill="none" stroke="#000" stroke-width="1.8"/>
<text x="109.2" y="170.43" font-size="14.5" fill="#8a8a8a" textLength="28.61" lengthAdjust="spacingAndGlyphs">ALU</text>
<text x="115" y="187.5" font-size="14.5" fill="#8a8a8a" textLength="10.12" lengthAdjust="spacingAndGlyphs">C</text>
<text x="109.2" y="204.56" font-size="14.5" fill="#8a8a8a" textLength="25.64" lengthAdjust="spacingAndGlyphs">abs</text>
<text x="109.2" y="221.63" font-size="14.5" fill="#8a8a8a" textLength="18.91" lengthAdjust="spacingAndGlyphs">rel</text>
<text x="114.7" y="187.5" font-size="14.5" fill="#8a8a8a" textLength="0" lengthAdjust="spacingAndGlyphs"></text>
<text x="187.33" y="170.43" font-size="14.5" fill="#8a8a8a" textLength="34.03" lengthAdjust="spacingAndGlyphs" text-anchor="end">Next</text>
<text x="187.33" y="187.5" font-size="14.5" fill="#8a8a8a" textLength="18.87" lengthAdjust="spacingAndGlyphs" text-anchor="end">PC</text>
<text x="148.26" y="239.6" font-size="14.5" fill="#8a8a8a" textLength="18.87" lengthAdjust="spacingAndGlyphs" text-anchor="middle">PC</text>
<polygon points="88.53,182.8 76.58,175.97 76.58,189.62" fill="#fff" stroke="#000" stroke-width="3.2" stroke-linejoin="miter"/>
<text x="72.08" y="187.5" font-size="14.5" fill="#8a8a8a" textLength="10.12" lengthAdjust="spacingAndGlyphs" text-anchor="end">C</text>
<polygon points="88.53,199.86 76.58,193.04 76.58,206.69" fill="#fff" stroke="#000" stroke-width="3.2" stroke-linejoin="miter"/>
<text x="72.08" y="204.56" font-size="14.5" fill="#8a8a8a" textLength="25.64" lengthAdjust="spacingAndGlyphs" text-anchor="end">abs</text>
<rect x="328.45" y="157.2" width="83.33" height="85.33" fill="#fefec4" stroke="#000" stroke-width="3.2"/>
<polyline points="327.45,178.4 334.25,182.8 327.45,187.2" fill="none" stroke="#000" stroke-width="1.8"/>
<text x="336.85" y="187.5" font-size="14.5" fill="#8a8a8a" textLength="10.12" lengthAdjust="spacingAndGlyphs">C</text>
<text x="331.05" y="170.43" font-size="14.5" fill="#8a8a8a" textLength="25.5" lengthAdjust="spacingAndGlyphs">WD</text>
<text x="331.05" y="204.56" font-size="14.5" fill="#8a8a8a" textLength="21.49" lengthAdjust="spacingAndGlyphs">src</text>
<text x="331.05" y="221.63" font-size="14.5" fill="#8a8a8a" textLength="31.36" lengthAdjust="spacingAndGlyphs">dest</text>
<text x="331.05" y="238.7" font-size="14.5" fill="#8a8a8a" textLength="23.5" lengthAdjust="spacingAndGlyphs">WE</text>
<text x="409.18" y="170.43" font-size="14.5" fill="#8a8a8a" textLength="41.44" lengthAdjust="spacingAndGlyphs" text-anchor="end">Rdest</text>
<text x="409.18" y="187.5" font-size="14.5" fill="#8a8a8a" textLength="31.56" lengthAdjust="spacingAndGlyphs" text-anchor="end">Rsrc</text>
<polygon points="310.39,182.8 298.44,175.97 298.44,189.62" fill="#fff" stroke="#000" stroke-width="3.2" stroke-linejoin="miter"/>
<text x="293.94" y="187.5" font-size="14.5" fill="#8a8a8a" textLength="10.12" lengthAdjust="spacingAndGlyphs" text-anchor="end">C</text>
<polygon points="310.39,234 298.44,227.17 298.44,240.82" fill="#fff" stroke="#000" stroke-width="3.2" stroke-linejoin="miter"/>
<text x="293.94" y="238.7" font-size="14.5" fill="#8a8a8a" textLength="23.5" lengthAdjust="spacingAndGlyphs" text-anchor="end">WE</text>
<text x="370.12" y="256.66" font-size="14.5" fill="#8a8a8a" textLength="60.35" lengthAdjust="spacingAndGlyphs" text-anchor="middle">Register</text>
<line x1="212.99" y1="97.47" x2="225.06" y2="97.47" stroke="#000" stroke-width="2.6"/>
<polygon points="207.99,81.77 218.09,113.51 197.89,113.51" fill="#fff" stroke="#000" stroke-width="3.2"/>
<polygon points="242.12,97.47 254.07,90.64 254.07,104.29" fill="#fff" stroke="#000" stroke-width="3.2" stroke-linejoin="miter"/>
<text x="258.57" y="102.17" font-size="14.5" fill="#8a8a8a" textLength="32.11" lengthAdjust="spacingAndGlyphs">stPC</text>
<line x1="451.91" y1="97.47" x2="463.98" y2="97.47" stroke="#000" stroke-width="2.6"/>
<polygon points="446.92,81.77 457.02,113.51 436.82,113.51" fill="#fff" stroke="#000" stroke-width="3.2"/>
<polygon points="481.05,97.47 492.99,90.64 492.99,104.29" fill="#fff" stroke="#000" stroke-width="3.2" stroke-linejoin="miter"/>
<text x="497.49" y="102.17" font-size="14.5" fill="#8a8a8a" textLength="41.88" lengthAdjust="spacingAndGlyphs">src2D</text>
<line x1="776.17" y1="97.47" x2="788.24" y2="97.47" stroke="#000" stroke-width="2.6"/>
<polygon points="771.17,81.77 781.27,113.51 761.07,113.51" fill="#fff" stroke="#000" stroke-width="3.2"/>
<polygon points="805.3,97.47 817.25,90.64 817.25,104.29" fill="#fff" stroke="#000" stroke-width="3.2" stroke-linejoin="miter"/>
<text x="821.75" y="102.17" font-size="14.5" fill="#8a8a8a" textLength="49" lengthAdjust="spacingAndGlyphs">ALU2D</text>
<polygon points="481.9,163.17 514.33,170.85 514.33,194.74 481.9,202.42" fill="#fff" stroke="#000" stroke-width="3.2"/>
<text x="484.25" y="178.03" font-size="14.5" fill="#8a8a8a" textLength="9.23" lengthAdjust="spacingAndGlyphs">0</text>
<polygon points="498.11,216.93 491.29,228.88 504.94,228.88" fill="#fff" stroke="#000" stroke-width="3.2" stroke-linejoin="miter"/>
<text x="503.31" y="233.78" font-size="14.5" fill="#8a8a8a" textLength="41" lengthAdjust="spacingAndGlyphs" text-anchor="end" transform="rotate(-90 503.31 233.78)">muxA</text>
<polygon points="685.84,157.2 754.1,191.33 754.1,259.59 685.84,293.73 685.84,234 711.44,225.46 685.84,216.93" fill="#fefec4" stroke="#000" stroke-width="3.2"/>
<text x="689.44" y="187.5" font-size="14.5" fill="#8a8a8a" textLength="9.92" lengthAdjust="spacingAndGlyphs">A</text>
<text x="689.44" y="272.83" font-size="14.5" fill="#8a8a8a" textLength="9.95" lengthAdjust="spacingAndGlyphs">B</text>
<text x="689.44" y="289.89" font-size="14.5" fill="#8a8a8a" textLength="14.15" lengthAdjust="spacingAndGlyphs">Ci</text>
<text x="750.5" y="204.56" font-size="14.5" fill="#8a8a8a" textLength="8.86" lengthAdjust="spacingAndGlyphs" text-anchor="end">Y</text>
<text x="750.5" y="221.63" font-size="14.5" fill="#8a8a8a" textLength="33.69" lengthAdjust="spacingAndGlyphs" text-anchor="end">Zero</text>
<text x="750.5" y="238.7" font-size="14.5" fill="#8a8a8a" textLength="28.97" lengthAdjust="spacingAndGlyphs" text-anchor="end">Neg</text>
<text x="750.5" y="255.76" font-size="14.5" fill="#8a8a8a" textLength="39.51" lengthAdjust="spacingAndGlyphs" text-anchor="end">Carry</text>
<text x="715.97" y="269.63" font-size="14.5" fill="#8a8a8a" textLength="20.62" lengthAdjust="spacingAndGlyphs" text-anchor="middle">Op</text>
<polygon points="737.04,302.26 725.09,295.43 725.09,309.09" fill="#fff" stroke="#000" stroke-width="3.2" stroke-linejoin="miter"/>
<text x="720.59" y="306.96" font-size="14.5" fill="#8a8a8a" textLength="46.69" lengthAdjust="spacingAndGlyphs" text-anchor="end">ALUop</text>
<rect x="925.76" y="191.33" width="49.2" height="85.33" fill="#fff" stroke="#000" stroke-width="3.2"/>
<polyline points="924.76,246.66 931.56,251.06 924.76,255.46" fill="none" stroke="#000" stroke-width="1.8"/>
<text x="928.36" y="204.56" font-size="14.5" fill="#8a8a8a" textLength="9.92" lengthAdjust="spacingAndGlyphs">A</text>
<text x="928.36" y="221.63" font-size="14.5" fill="#8a8a8a" textLength="19.2" lengthAdjust="spacingAndGlyphs">str</text>
<text x="934.16" y="255.76" font-size="14.5" fill="#8a8a8a" textLength="10.12" lengthAdjust="spacingAndGlyphs">C</text>
<text x="928.36" y="272.83" font-size="14.5" fill="#8a8a8a" textLength="13.23" lengthAdjust="spacingAndGlyphs">ld</text>
<text x="972.36" y="238.7" font-size="14.5" fill="#8a8a8a" textLength="11.17" lengthAdjust="spacingAndGlyphs" text-anchor="end">D</text>
<text x="950.36" y="290.79" font-size="14.5" fill="#8a8a8a" textLength="32.5" lengthAdjust="spacingAndGlyphs" text-anchor="middle">RAM</text>
<polygon points="907.7,216.93 895.75,210.1 895.75,223.76" fill="#fff" stroke="#000" stroke-width="3.2" stroke-linejoin="miter"/>
<text x="891.25" y="221.63" font-size="14.5" fill="#8a8a8a" textLength="13.24" lengthAdjust="spacingAndGlyphs" text-anchor="end">st</text>
<polygon points="907.7,251.06 895.75,244.24 895.75,257.89" fill="#fff" stroke="#000" stroke-width="3.2" stroke-linejoin="miter"/>
<text x="891.25" y="255.76" font-size="14.5" fill="#8a8a8a" textLength="10.12" lengthAdjust="spacingAndGlyphs" text-anchor="end">C</text>
<polygon points="907.7,268.13 895.75,261.3 895.75,274.95" fill="#fff" stroke="#000" stroke-width="3.2" stroke-linejoin="miter"/>
<text x="891.25" y="272.83" font-size="14.5" fill="#8a8a8a" textLength="13.23" lengthAdjust="spacingAndGlyphs" text-anchor="end">ld</text>
<rect x="925.76" y="379.06" width="49.2" height="85.33" fill="#fefec4" stroke="#000" stroke-width="3.2"/>
<polyline points="924.76,434.39 931.56,438.79 924.76,443.19" fill="none" stroke="#000" stroke-width="1.8"/>
<text x="928.36" y="392.29" font-size="14.5" fill="#8a8a8a" textLength="9.92" lengthAdjust="spacingAndGlyphs">A</text>
<text x="928.36" y="409.36" font-size="14.5" fill="#8a8a8a" textLength="10.07" lengthAdjust="spacingAndGlyphs">R</text>
<text x="934.16" y="443.49" font-size="14.5" fill="#8a8a8a" textLength="10.12" lengthAdjust="spacingAndGlyphs">C</text>
<text x="928.36" y="460.55" font-size="14.5" fill="#8a8a8a" textLength="14.34" lengthAdjust="spacingAndGlyphs">W</text>
<text x="972.36" y="426.42" font-size="14.5" fill="#8a8a8a" textLength="11.17" lengthAdjust="spacingAndGlyphs" text-anchor="end">D</text>
<text x="950.36" y="478.52" font-size="14.5" fill="#8a8a8a" textLength="64.03" lengthAdjust="spacingAndGlyphs" text-anchor="middle">Graphics</text>
<polygon points="907.7,404.66 895.75,397.83 895.75,411.48" fill="#fff" stroke="#000" stroke-width="3.2" stroke-linejoin="miter"/>
<text x="891.25" y="409.36" font-size="14.5" fill="#8a8a8a" textLength="22.97" lengthAdjust="spacingAndGlyphs" text-anchor="end">ioR</text>
<polygon points="907.7,438.79 895.75,431.96 895.75,445.61" fill="#fff" stroke="#000" stroke-width="3.2" stroke-linejoin="miter"/>
<text x="891.25" y="443.49" font-size="14.5" fill="#8a8a8a" textLength="10.12" lengthAdjust="spacingAndGlyphs" text-anchor="end">C</text>
<polygon points="907.7,455.85 895.75,449.03 895.75,462.68" fill="#fff" stroke="#000" stroke-width="3.2" stroke-linejoin="miter"/>
<text x="891.25" y="460.55" font-size="14.5" fill="#8a8a8a" textLength="27.24" lengthAdjust="spacingAndGlyphs" text-anchor="end">ioW</text>
<rect x="72.46" y="413.19" width="49.2" height="51.2" fill="#fff" stroke="#000" stroke-width="3.2"/>
<text x="75.06" y="426.42" font-size="14.5" fill="#8a8a8a" textLength="9.92" lengthAdjust="spacingAndGlyphs">A</text>
<text x="75.06" y="460.55" font-size="14.5" fill="#8a8a8a" textLength="20.5" lengthAdjust="spacingAndGlyphs">sel</text>
<text x="119.06" y="443.49" font-size="14.5" fill="#8a8a8a" textLength="11.17" lengthAdjust="spacingAndGlyphs" text-anchor="end">D</text>
<text x="97.06" y="478.52" font-size="14.5" fill="#8a8a8a" textLength="34" lengthAdjust="spacingAndGlyphs" text-anchor="middle">ROM</text>
<path d="M43.9 449.1h2.1v13.3h3.9v1.6h-8.7v-1.6h2.7v-10.6l-2.7 1.1v-1.8z" fill="#000"/>
<line x1="173.86" y1="438.79" x2="182.39" y2="438.79" stroke="#000" stroke-width="3"/>
<line x1="182.39" y1="438.79" x2="190.93" y2="438.79" stroke="#000" stroke-width="3"/>
<line x1="182.39" y1="455.85" x2="190.93" y2="455.85" stroke="#000" stroke-width="3"/>
<line x1="182.39" y1="472.92" x2="190.93" y2="472.92" stroke="#000" stroke-width="3"/>
<line x1="182.39" y1="489.99" x2="190.93" y2="489.99" stroke="#000" stroke-width="3"/>
<rect x="179.49" y="436.23" width="5.8" height="56.32" fill="#000"/>
<text x="172.66" y="434.99" font-size="8.9" fill="#8a8a8a" textLength="20.2" lengthAdjust="spacingAndGlyphs" text-anchor="end">0-15</text>
<text x="193.63" y="435.19" font-size="8.9" fill="#8a8a8a" textLength="14.54" lengthAdjust="spacingAndGlyphs">0-3</text>
<text x="193.63" y="452.25" font-size="8.9" fill="#8a8a8a" textLength="14.54" lengthAdjust="spacingAndGlyphs">4-7</text>
<text x="193.63" y="469.32" font-size="8.9" fill="#8a8a8a" textLength="5.66" lengthAdjust="spacingAndGlyphs">8</text>
<text x="193.63" y="486.39" font-size="8.9" fill="#8a8a8a" textLength="20.2" lengthAdjust="spacingAndGlyphs">9-15</text>
<rect x="328.45" y="413.19" width="66.26" height="51.2" fill="#fefec4" stroke="#000" stroke-width="3.2"/>
<polyline points="327.45,451.45 334.25,455.85 327.45,460.25" fill="none" stroke="#000" stroke-width="1.8"/>
<text x="331.05" y="426.42" font-size="14.5" fill="#8a8a8a" textLength="26.46" lengthAdjust="spacingAndGlyphs">inst</text>
<text x="331.05" y="443.49" font-size="14.5" fill="#8a8a8a" textLength="18.11" lengthAdjust="spacingAndGlyphs">en</text>
<text x="336.85" y="460.55" font-size="14.5" fill="#8a8a8a" textLength="10.12" lengthAdjust="spacingAndGlyphs">C</text>
<text x="392.12" y="443.49" font-size="14.5" fill="#8a8a8a" textLength="32.28" lengthAdjust="spacingAndGlyphs" text-anchor="end">imm</text>
<text x="361.59" y="478.52" font-size="14.5" fill="#8a8a8a" textLength="46.6" lengthAdjust="spacingAndGlyphs" text-anchor="middle">ImReg</text>
<polygon points="310.39,438.79 298.44,431.96 298.44,445.61" fill="#fff" stroke="#000" stroke-width="3.2" stroke-linejoin="miter"/>
<text x="293.94" y="443.49" font-size="14.5" fill="#8a8a8a" textLength="32.28" lengthAdjust="spacingAndGlyphs" text-anchor="end">imm</text>
<polygon points="310.39,455.85 298.44,449.03 298.44,462.68" fill="#fff" stroke="#000" stroke-width="3.2" stroke-linejoin="miter"/>
<text x="293.94" y="460.55" font-size="14.5" fill="#8a8a8a" textLength="10.12" lengthAdjust="spacingAndGlyphs" text-anchor="end">C</text>
<rect x="328.45" y="498.52" width="66.26" height="51.2" fill="#fefec4" stroke="#000" stroke-width="3.2"/>
<text x="331.05" y="511.75" font-size="14.5" fill="#8a8a8a" textLength="26.46" lengthAdjust="spacingAndGlyphs">inst</text>
<text x="392.12" y="511.75" font-size="14.5" fill="#8a8a8a" textLength="18.43" lengthAdjust="spacingAndGlyphs" text-anchor="end">5S</text>
<text x="392.12" y="528.82" font-size="14.5" fill="#8a8a8a" textLength="29.59" lengthAdjust="spacingAndGlyphs" text-anchor="end">9SD</text>
<text x="392.12" y="545.88" font-size="14.5" fill="#8a8a8a" textLength="20.39" lengthAdjust="spacingAndGlyphs" text-anchor="end">5D</text>
<text x="361.59" y="563.85" font-size="14.5" fill="#8a8a8a" textLength="55.05" lengthAdjust="spacingAndGlyphs" text-anchor="middle">SignExt</text>
<text x="443.9" y="480.42" font-size="20.8" fill="#000" textLength="12.1" lengthAdjust="spacingAndGlyphs" text-anchor="end">0</text>
<polygon points="481.9,419.16 514.33,426.84 514.33,553.13 481.9,560.81" fill="#fff" stroke="#000" stroke-width="3.2"/>
<text x="484.25" y="434.02" font-size="14.5" fill="#8a8a8a" textLength="9.23" lengthAdjust="spacingAndGlyphs">0</text>
<polygon points="498.11,575.32 491.29,587.26 504.94,587.26" fill="#fff" stroke="#000" stroke-width="3.2" stroke-linejoin="miter"/>
<text x="503.31" y="592.16" font-size="14.5" fill="#8a8a8a" textLength="39.5" lengthAdjust="spacingAndGlyphs" text-anchor="end" transform="rotate(-90 503.31 592.16)">muxB</text>
<rect x="567.38" y="344.92" width="49.2" height="85.33" fill="#fefec4" stroke="#000" stroke-width="3.2"/>
<text x="613.98" y="358.16" font-size="14.5" fill="#8a8a8a" textLength="23.65" lengthAdjust="spacingAndGlyphs" text-anchor="end">ctrl</text>
<text x="613.98" y="375.22" font-size="14.5" fill="#8a8a8a" textLength="10.12" lengthAdjust="spacingAndGlyphs" text-anchor="end">C</text>
<text x="613.98" y="409.36" font-size="14.5" fill="#8a8a8a" textLength="10.85" lengthAdjust="spacingAndGlyphs" text-anchor="end">N</text>
<text x="613.98" y="426.42" font-size="14.5" fill="#8a8a8a" textLength="9.93" lengthAdjust="spacingAndGlyphs" text-anchor="end">Z</text>
<text x="569.98" y="392.29" font-size="14.5" fill="#8a8a8a" textLength="27.36" lengthAdjust="spacingAndGlyphs">jmp</text>
<text x="591.98" y="340.92" font-size="14.5" fill="#8a8a8a" textLength="51.15" lengthAdjust="spacingAndGlyphs" text-anchor="middle">Branch</text>
<polygon points="634.64,353.46 646.59,346.63 646.59,360.28" fill="#fff" stroke="#000" stroke-width="3.2" stroke-linejoin="miter"/>
<text x="651.09" y="358.16" font-size="14.5" fill="#8a8a8a" textLength="15.17" lengthAdjust="spacingAndGlyphs">br</text>
<rect x="686.84" y="344.92" width="49.2" height="85.33" fill="#fefec4" stroke="#000" stroke-width="3.2"/>
<polyline points="737.04,366.12 730.24,370.52 737.04,374.92" fill="none" stroke="#000" stroke-width="1.8"/>
<text x="733.44" y="358.16" font-size="14.5" fill="#8a8a8a" textLength="36.99" lengthAdjust="spacingAndGlyphs" text-anchor="end">store</text>
<text x="728.44" y="375.22" font-size="14.5" fill="#8a8a8a" textLength="10.12" lengthAdjust="spacingAndGlyphs" text-anchor="end">C</text>
<text x="733.44" y="392.29" font-size="14.5" fill="#8a8a8a" textLength="14.15" lengthAdjust="spacingAndGlyphs" text-anchor="end">Ci</text>
<text x="733.44" y="409.36" font-size="14.5" fill="#8a8a8a" textLength="14.88" lengthAdjust="spacingAndGlyphs" text-anchor="end">Ni</text>
<text x="733.44" y="426.42" font-size="14.5" fill="#8a8a8a" textLength="13.96" lengthAdjust="spacingAndGlyphs" text-anchor="end">Zi</text>
<text x="689.44" y="392.29" font-size="14.5" fill="#8a8a8a" textLength="19" lengthAdjust="spacingAndGlyphs">Co</text>
<text x="689.44" y="409.36" font-size="14.5" fill="#8a8a8a" textLength="19.72" lengthAdjust="spacingAndGlyphs">No</text>
<text x="689.44" y="426.42" font-size="14.5" fill="#8a8a8a" textLength="18.8" lengthAdjust="spacingAndGlyphs">Zo</text>
<text x="711.44" y="340.92" font-size="14.5" fill="#8a8a8a" textLength="38.01" lengthAdjust="spacingAndGlyphs" text-anchor="middle">Flags</text>
<polygon points="754.1,353.46 766.05,346.63 766.05,360.28" fill="#fff" stroke="#000" stroke-width="3.2" stroke-linejoin="miter"/>
<text x="770.55" y="358.16" font-size="14.5" fill="#8a8a8a" textLength="12.66" lengthAdjust="spacingAndGlyphs">sf</text>
<polygon points="754.1,370.52 766.05,363.7 766.05,377.35" fill="#fff" stroke="#000" stroke-width="3.2" stroke-linejoin="miter"/>
<text x="770.55" y="375.22" font-size="14.5" fill="#8a8a8a" textLength="10.12" lengthAdjust="spacingAndGlyphs">C</text>
<rect x="47.16" y="524.12" width="255.99" height="83.45" fill="#fefec4" stroke="#000" stroke-width="3.2"/>
<text x="298.62" y="527.2" font-size="14.5" fill="#8a8a8a" textLength="20.2" lengthAdjust="spacingAndGlyphs" text-anchor="end" transform="rotate(-90 298.62 527.2)">Op</text>
<text x="59.7" y="605.5" font-size="14.5" fill="#8a8a8a" textLength="18.8" lengthAdjust="spacingAndGlyphs" transform="rotate(-90 59.7 605.5)">ioR</text>
<polygon points="54.4,626.51 47.57,638.46 61.22,638.46" fill="#fff" stroke="#000" stroke-width="3.2" stroke-linejoin="miter"/>
<text x="59.6" y="643.36" font-size="14.5" fill="#8a8a8a" textLength="19.8" lengthAdjust="spacingAndGlyphs" text-anchor="end" transform="rotate(-90 59.6 643.36)">ioR</text>
<text x="76.76" y="605.5" font-size="14.5" fill="#8a8a8a" textLength="24.1" lengthAdjust="spacingAndGlyphs" transform="rotate(-90 76.76 605.5)">ioW</text>
<polygon points="71.46,626.51 64.64,638.46 78.29,638.46" fill="#fff" stroke="#000" stroke-width="3.2" stroke-linejoin="miter"/>
<text x="76.66" y="643.36" font-size="14.5" fill="#8a8a8a" textLength="24.9" lengthAdjust="spacingAndGlyphs" text-anchor="end" transform="rotate(-90 76.66 643.36)">ioW</text>
<text x="93.83" y="605.5" font-size="14.5" fill="#8a8a8a" textLength="11.2" lengthAdjust="spacingAndGlyphs" transform="rotate(-90 93.83 605.5)">ld</text>
<polygon points="88.53,626.51 81.7,638.46 95.36,638.46" fill="#fff" stroke="#000" stroke-width="3.2" stroke-linejoin="miter"/>
<text x="93.73" y="643.36" font-size="14.5" fill="#8a8a8a" textLength="10.9" lengthAdjust="spacingAndGlyphs" text-anchor="end" transform="rotate(-90 93.73 643.36)">ld</text>
<text x="110.9" y="605.5" font-size="14.5" fill="#8a8a8a" textLength="12.4" lengthAdjust="spacingAndGlyphs" transform="rotate(-90 110.9 605.5)">st</text>
<polygon points="105.6,626.51 98.77,638.46 112.42,638.46" fill="#fff" stroke="#000" stroke-width="3.2" stroke-linejoin="miter"/>
<text x="110.8" y="643.36" font-size="14.5" fill="#8a8a8a" textLength="11.6" lengthAdjust="spacingAndGlyphs" text-anchor="end" transform="rotate(-90 110.8 643.36)">st</text>
<text x="127.96" y="605.5" font-size="14.5" fill="#8a8a8a" textLength="45.2" lengthAdjust="spacingAndGlyphs" transform="rotate(-90 127.96 605.5)">Branch</text>
<polygon points="122.66,626.51 115.84,638.46 129.49,638.46" fill="#fff" stroke="#000" stroke-width="3.2" stroke-linejoin="miter"/>
<text x="127.86" y="643.36" font-size="14.5" fill="#8a8a8a" textLength="12.2" lengthAdjust="spacingAndGlyphs" text-anchor="end" transform="rotate(-90 127.86 643.36)">br</text>
<text x="145.03" y="605.5" font-size="14.5" fill="#8a8a8a" textLength="66" lengthAdjust="spacingAndGlyphs" transform="rotate(-90 145.03 605.5)">storeFlags</text>
<polygon points="139.73,626.51 132.9,638.46 146.55,638.46" fill="#fff" stroke="#000" stroke-width="3.2" stroke-linejoin="miter"/>
<text x="144.93" y="643.36" font-size="14.5" fill="#8a8a8a" textLength="11.6" lengthAdjust="spacingAndGlyphs" text-anchor="end" transform="rotate(-90 144.93 643.36)">sf</text>
<text x="162.09" y="605.5" font-size="14.5" fill="#8a8a8a" textLength="42.3" lengthAdjust="spacingAndGlyphs" transform="rotate(-90 162.09 605.5)">ALUop</text>
<polygon points="156.79,626.51 149.97,638.46 163.62,638.46" fill="#fff" stroke="#000" stroke-width="3.2" stroke-linejoin="miter"/>
<text x="161.99" y="643.36" font-size="14.5" fill="#8a8a8a" textLength="42.3" lengthAdjust="spacingAndGlyphs" text-anchor="end" transform="rotate(-90 161.99 643.36)">ALUop</text>
<text x="179.16" y="605.5" font-size="14.5" fill="#8a8a8a" textLength="66.6" lengthAdjust="spacingAndGlyphs" transform="rotate(-90 179.16 605.5)">ALUToBus</text>
<polygon points="173.86,626.51 167.03,638.46 180.69,638.46" fill="#fff" stroke="#000" stroke-width="3.2" stroke-linejoin="miter"/>
<text x="179.06" y="643.36" font-size="14.5" fill="#8a8a8a" textLength="43.63" lengthAdjust="spacingAndGlyphs" text-anchor="end" transform="rotate(-90 179.06 643.36)">ALU2D</text>
<text x="196.23" y="605.5" font-size="14.5" fill="#8a8a8a" textLength="41.3" lengthAdjust="spacingAndGlyphs" transform="rotate(-90 196.23 605.5)">muxA</text>
<polygon points="190.93,626.51 184.1,638.46 197.75,638.46" fill="#fff" stroke="#000" stroke-width="3.2" stroke-linejoin="miter"/>
<text x="196.13" y="643.36" font-size="14.5" fill="#8a8a8a" textLength="41" lengthAdjust="spacingAndGlyphs" text-anchor="end" transform="rotate(-90 196.13 643.36)">muxA</text>
<text x="213.29" y="605.5" font-size="14.5" fill="#8a8a8a" textLength="45.2" lengthAdjust="spacingAndGlyphs" transform="rotate(-90 213.29 605.5)">srcToD</text>
<polygon points="207.99,626.51 201.17,638.46 214.82,638.46" fill="#fff" stroke="#000" stroke-width="3.2" stroke-linejoin="miter"/>
<text x="213.19" y="643.36" font-size="14.5" fill="#8a8a8a" textLength="37.43" lengthAdjust="spacingAndGlyphs" text-anchor="end" transform="rotate(-90 213.19 643.36)">src2D</text>
<text x="230.36" y="605.5" font-size="14.5" fill="#8a8a8a" textLength="40" lengthAdjust="spacingAndGlyphs" transform="rotate(-90 230.36 605.5)">muxB</text>
<polygon points="225.06,626.51 218.23,638.46 231.88,638.46" fill="#fff" stroke="#000" stroke-width="3.2" stroke-linejoin="miter"/>
<text x="230.26" y="643.36" font-size="14.5" fill="#8a8a8a" textLength="39.5" lengthAdjust="spacingAndGlyphs" text-anchor="end" transform="rotate(-90 230.26 643.36)">muxB</text>
<text x="247.42" y="605.5" font-size="14.5" fill="#8a8a8a" textLength="47.5" lengthAdjust="spacingAndGlyphs" transform="rotate(-90 247.42 605.5)">absJmp</text>
<polygon points="242.12,626.51 235.3,638.46 248.95,638.46" fill="#fff" stroke="#000" stroke-width="3.2" stroke-linejoin="miter"/>
<text x="247.32" y="643.36" font-size="14.5" fill="#8a8a8a" textLength="23.3" lengthAdjust="spacingAndGlyphs" text-anchor="end" transform="rotate(-90 247.32 643.36)">abs</text>
<text x="264.49" y="605.5" font-size="14.5" fill="#8a8a8a" textLength="30.4" lengthAdjust="spacingAndGlyphs" transform="rotate(-90 264.49 605.5)">imm</text>
<polygon points="259.19,626.51 252.36,638.46 266.02,638.46" fill="#fff" stroke="#000" stroke-width="3.2" stroke-linejoin="miter"/>
<text x="264.39" y="643.36" font-size="14.5" fill="#8a8a8a" textLength="31" lengthAdjust="spacingAndGlyphs" text-anchor="end" transform="rotate(-90 264.39 643.36)">imm</text>
<text x="281.56" y="605.5" font-size="14.5" fill="#8a8a8a" textLength="22.2" lengthAdjust="spacingAndGlyphs" transform="rotate(-90 281.56 605.5)">WE</text>
<polygon points="276.26,626.51 269.43,638.46 283.08,638.46" fill="#fff" stroke="#000" stroke-width="3.2" stroke-linejoin="miter"/>
<text x="281.46" y="643.36" font-size="14.5" fill="#8a8a8a" textLength="21.5" lengthAdjust="spacingAndGlyphs" text-anchor="end" transform="rotate(-90 281.46 643.36)">WE</text>
<text x="298.62" y="605.5" font-size="14.5" fill="#8a8a8a" textLength="30.1" lengthAdjust="spacingAndGlyphs" transform="rotate(-90 298.62 605.5)">stPC</text>
<polygon points="293.32,626.51 286.5,638.46 300.15,638.46" fill="#fff" stroke="#000" stroke-width="3.2" stroke-linejoin="miter"/>
<text x="298.52" y="643.36" font-size="14.5" fill="#8a8a8a" textLength="30.4" lengthAdjust="spacingAndGlyphs" text-anchor="end" transform="rotate(-90 298.52 643.36)">stPC</text>
<text x="43.1" y="568.75" font-size="14.5" fill="#8a8a8a" textLength="45.7" lengthAdjust="spacingAndGlyphs" text-anchor="middle" transform="rotate(-90 43.1 568.75)">Control</text>
<rect x="779.5" y="596.55" width="24.5" height="25.5" fill="#fff" stroke="#000" stroke-width="3.2"/>
<polyline points="784.7,613.65 788.1,613.65 788.1,605.25 794.1,605.25 794.1,613.65 796.4,613.65 796.4,605.25 802.3,605.25" fill="none" stroke="#000" stroke-width="1.5"/>
<text x="767.2" y="616.75" font-size="19.8" fill="#000" textLength="55.15" lengthAdjust="spacingAndGlyphs" text-anchor="end">Clock</text>
<polygon points="822.37,609.45 834.31,602.62 834.31,616.27" fill="#fff" stroke="#000" stroke-width="3.2" stroke-linejoin="miter"/>
<text x="838.81" y="614.15" font-size="14.5" fill="#8a8a8a" textLength="10.12" lengthAdjust="spacingAndGlyphs">C</text>
<line x1="246.86" y1="59.44" x2="254.46" y2="67.24" stroke="#0c0c50" stroke-width="1.6"/>
<text x="250.86" y="60.74" font-size="9.6" fill="#0c0c50" textLength="12" lengthAdjust="spacingAndGlyphs">16</text>
<line x1="366.32" y1="59.44" x2="373.92" y2="67.24" stroke="#0c0c50" stroke-width="1.6"/>
<text x="370.32" y="60.74" font-size="9.6" fill="#0c0c50" textLength="12" lengthAdjust="spacingAndGlyphs">16</text>
<line x1="605.24" y1="59.44" x2="612.84" y2="67.24" stroke="#0c0c50" stroke-width="1.6"/>
<text x="609.24" y="60.74" font-size="9.6" fill="#0c0c50" textLength="12" lengthAdjust="spacingAndGlyphs">16</text>
<line x1="878.3" y1="59.44" x2="885.9" y2="67.24" stroke="#0c0c50" stroke-width="1.6"/>
<text x="882.3" y="60.74" font-size="9.6" fill="#0c0c50" textLength="12" lengthAdjust="spacingAndGlyphs">16</text>
<line x1="417.52" y1="127.7" x2="425.12" y2="135.5" stroke="#0c0c50" stroke-width="1.6"/>
<text x="421.52" y="129" font-size="9.6" fill="#0c0c50" textLength="12" lengthAdjust="spacingAndGlyphs">16</text>
<line x1="434.58" y1="161.83" x2="442.18" y2="169.63" stroke="#0c0c50" stroke-width="1.6"/>
<text x="438.58" y="163.13" font-size="9.6" fill="#0c0c50" textLength="12" lengthAdjust="spacingAndGlyphs">16</text>
<line x1="417.52" y1="178.9" x2="425.12" y2="186.7" stroke="#0c0c50" stroke-width="1.6"/>
<text x="421.52" y="180.2" font-size="9.6" fill="#0c0c50" textLength="12" lengthAdjust="spacingAndGlyphs">16</text>
<line x1="451.65" y1="195.96" x2="459.25" y2="203.76" stroke="#0c0c50" stroke-width="1.6"/>
<text x="455.65" y="197.26" font-size="9.6" fill="#0c0c50" textLength="12" lengthAdjust="spacingAndGlyphs">16</text>
<line x1="588.18" y1="178.9" x2="595.78" y2="186.7" stroke="#0c0c50" stroke-width="1.6"/>
<text x="592.18" y="180.2" font-size="9.6" fill="#0c0c50" textLength="12" lengthAdjust="spacingAndGlyphs">16</text>
<line x1="263.92" y1="195.96" x2="271.52" y2="203.76" stroke="#0c0c50" stroke-width="1.6"/>
<text x="267.92" y="197.26" font-size="9.6" fill="#0c0c50" textLength="6" lengthAdjust="spacingAndGlyphs">4</text>
<line x1="280.99" y1="213.03" x2="288.59" y2="220.83" stroke="#0c0c50" stroke-width="1.6"/>
<text x="284.99" y="214.33" font-size="9.6" fill="#0c0c50" textLength="6" lengthAdjust="spacingAndGlyphs">4</text>
<line x1="810.04" y1="195.96" x2="817.63" y2="203.76" stroke="#0c0c50" stroke-width="1.6"/>
<text x="814.04" y="197.26" font-size="9.6" fill="#0c0c50" textLength="12" lengthAdjust="spacingAndGlyphs">16</text>
<line x1="878.3" y1="195.96" x2="885.9" y2="203.76" stroke="#0c0c50" stroke-width="1.6"/>
<text x="882.3" y="197.26" font-size="9.6" fill="#0c0c50" textLength="12" lengthAdjust="spacingAndGlyphs">16</text>
<line x1="127.39" y1="298.36" x2="135" y2="306.16" stroke="#0c0c50" stroke-width="1.6"/>
<text x="131.39" y="299.66" font-size="9.6" fill="#0c0c50" textLength="12" lengthAdjust="spacingAndGlyphs">16</text>
<line x1="605.24" y1="264.23" x2="612.84" y2="272.03" stroke="#0c0c50" stroke-width="1.6"/>
<text x="609.24" y="265.53" font-size="9.6" fill="#0c0c50" textLength="12" lengthAdjust="spacingAndGlyphs">16</text>
<line x1="878.3" y1="383.69" x2="885.9" y2="391.49" stroke="#0c0c50" stroke-width="1.6"/>
<text x="882.3" y="384.99" font-size="9.6" fill="#0c0c50" textLength="12" lengthAdjust="spacingAndGlyphs">16</text>
<line x1="127.39" y1="434.89" x2="135" y2="442.69" stroke="#0c0c50" stroke-width="1.6"/>
<text x="131.39" y="436.19" font-size="9.6" fill="#0c0c50" textLength="12" lengthAdjust="spacingAndGlyphs">16</text>
<line x1="195.66" y1="503.15" x2="203.26" y2="510.95" stroke="#0c0c50" stroke-width="1.6"/>
<text x="199.66" y="504.45" font-size="9.6" fill="#0c0c50" textLength="12" lengthAdjust="spacingAndGlyphs">16</text>
<line x1="280.99" y1="503.15" x2="288.59" y2="510.95" stroke="#0c0c50" stroke-width="1.6"/>
<text x="284.99" y="504.45" font-size="9.6" fill="#0c0c50" textLength="12" lengthAdjust="spacingAndGlyphs">16</text>
<line x1="280.99" y1="417.82" x2="288.59" y2="425.62" stroke="#0c0c50" stroke-width="1.6"/>
<text x="284.99" y="419.12" font-size="9.6" fill="#0c0c50" textLength="12" lengthAdjust="spacingAndGlyphs">16</text>
<line x1="229.79" y1="486.09" x2="237.39" y2="493.89" stroke="#0c0c50" stroke-width="1.6"/>
<text x="233.79" y="487.39" font-size="9.6" fill="#0c0c50" textLength="6" lengthAdjust="spacingAndGlyphs">7</text>
<line x1="434.58" y1="434.89" x2="442.18" y2="442.69" stroke="#0c0c50" stroke-width="1.6"/>
<text x="438.58" y="436.19" font-size="9.6" fill="#0c0c50" textLength="12" lengthAdjust="spacingAndGlyphs">16</text>
<line x1="451.65" y1="417.82" x2="459.25" y2="425.62" stroke="#0c0c50" stroke-width="1.6"/>
<text x="455.65" y="419.12" font-size="9.6" fill="#0c0c50" textLength="12" lengthAdjust="spacingAndGlyphs">16</text>
<line x1="434.58" y1="503.15" x2="442.18" y2="510.95" stroke="#0c0c50" stroke-width="1.6"/>
<text x="438.58" y="504.45" font-size="9.6" fill="#0c0c50" textLength="12" lengthAdjust="spacingAndGlyphs">16</text>
<line x1="434.58" y1="520.22" x2="442.18" y2="528.02" stroke="#0c0c50" stroke-width="1.6"/>
<text x="438.58" y="521.52" font-size="9.6" fill="#0c0c50" textLength="12" lengthAdjust="spacingAndGlyphs">16</text>
<line x1="434.58" y1="537.28" x2="442.18" y2="545.08" stroke="#0c0c50" stroke-width="1.6"/>
<text x="438.58" y="538.58" font-size="9.6" fill="#0c0c50" textLength="12" lengthAdjust="spacingAndGlyphs">16</text>
<polyline points="207.99,80.4 207.99,63.34 993.03,63.34 993.03,421.72 975.96,421.72" class="w"/>
<polyline points="975.96,234 993.03,234" class="w"/>
<polyline points="310.39,63.34 310.39,165.73 327.45,165.73" class="w"/>
<polyline points="446.92,63.34 446.92,80.4" class="w"/>
<polyline points="771.17,63.34 771.17,80.4" class="w"/>
<polyline points="207.99,114.53 207.99,165.73 190.93,165.73" class="w"/>
<polyline points="105.6,165.73 88.53,165.73 88.53,131.6 771.17,131.6" class="w"/>
<polyline points="771.17,114.53 771.17,199.86" class="w"/>
<polyline points="190.93,182.8 207.99,182.8 207.99,302.26 54.4,302.26 54.4,421.72 71.46,421.72" class="w"/>
<polyline points="105.6,216.93 88.53,216.93 88.53,387.59 566.38,387.59" class="w"/>
<polyline points="412.78,165.73 481.05,165.73" class="w"/>
<polyline points="412.78,182.8 446.92,182.8" class="w"/>
<polyline points="446.92,114.53 446.92,421.72 481.05,421.72" class="w"/>
<polyline points="446.92,199.86 481.05,199.86" class="w"/>
<polyline points="515.18,182.8 685.84,182.8" class="w"/>
<polyline points="327.45,199.86 225.06,199.86 225.06,438.79 190.93,438.79" class="w"/>
<polyline points="327.45,216.93 242.12,216.93 242.12,455.85 190.93,455.85" class="w"/>
<polyline points="754.1,199.86 924.76,199.86" class="w"/>
<polyline points="856.5,199.86 856.5,387.59 924.76,387.59" class="w"/>
<polyline points="754.1,216.93 822.37,216.93 822.37,421.72 737.04,421.72" class="w"/>
<polyline points="754.1,234 805.3,234 805.3,404.66 737.04,404.66" class="w"/>
<polyline points="754.1,251.06 788.24,251.06 788.24,387.59 737.04,387.59" class="w"/>
<polyline points="685.84,285.19 668.77,285.19 668.77,387.59 685.84,387.59" class="w"/>
<polyline points="617.58,370.52 668.77,370.52" class="w"/>
<polyline points="617.58,404.66 685.84,404.66" class="w"/>
<polyline points="617.58,421.72 685.84,421.72" class="w"/>
<polyline points="617.58,353.46 634.64,353.46" class="w"/>
<polyline points="685.84,268.13 532.25,268.13 532.25,489.99 515.18,489.99" class="w"/>
<polyline points="737.04,268.13 737.04,302.26" class="w"/>
<polyline points="122.66,438.79 173.86,438.79" class="w"/>
<polyline points="156.79,438.79 156.79,507.05 327.45,507.05" class="w"/>
<polyline points="259.19,507.05 259.19,421.72 327.45,421.72" class="w"/>
<polyline points="190.93,489.99 293.32,489.99 293.32,524.12" class="w"/>
<polyline points="395.72,438.79 481.05,438.79" class="w"/>
<polyline points="446.92,472.92 463.98,472.92" class="w"/>
<polyline points="481.05,455.85 463.98,455.85 463.98,489.99 481.05,489.99" class="w"/>
<polyline points="463.98,472.92 481.05,472.92" class="w"/>
<polyline points="395.72,507.05 481.05,507.05" class="w"/>
<polyline points="395.72,524.12 481.05,524.12" class="w"/>
<polyline points="395.72,541.18 481.05,541.18" class="w"/>
<polyline points="54.4,455.85 71.46,455.85" class="w"/>
<polyline points="88.53,182.8 105.6,182.8" class="w"/>
<polyline points="88.53,199.86 105.6,199.86" class="w"/>
<polyline points="310.39,182.8 327.45,182.8" class="w"/>
<polyline points="310.39,234 327.45,234" class="w"/>
<polyline points="310.39,438.79 327.45,438.79" class="w"/>
<polyline points="310.39,455.85 327.45,455.85" class="w"/>
<polyline points="907.7,216.93 924.76,216.93" class="w"/>
<polyline points="907.7,251.06 924.76,251.06" class="w"/>
<polyline points="907.7,268.13 924.76,268.13" class="w"/>
<polyline points="907.7,404.66 924.76,404.66" class="w"/>
<polyline points="907.7,438.79 924.76,438.79" class="w"/>
<polyline points="907.7,455.85 924.76,455.85" class="w"/>
<polyline points="737.04,353.46 754.1,353.46" class="w"/>
<polyline points="737.04,370.52 754.1,370.52" class="w"/>
<polyline points="805.3,609.45 822.37,609.45" class="w"/>
<polyline points="498.11,198.16 498.11,216.93" class="w"/>
<polyline points="498.11,556.54 498.11,575.32" class="w"/>
<polyline points="54.4,609.45 54.4,626.51" class="w"/>
<polyline points="71.46,609.45 71.46,626.51" class="w"/>
<polyline points="88.53,609.45 88.53,626.51" class="w"/>
<polyline points="105.6,609.45 105.6,626.51" class="w"/>
<polyline points="122.66,609.45 122.66,626.51" class="w"/>
<polyline points="139.73,609.45 139.73,626.51" class="w"/>
<polyline points="156.79,609.45 156.79,626.51" class="w"/>
<polyline points="173.86,609.45 173.86,626.51" class="w"/>
<polyline points="190.93,609.45 190.93,626.51" class="w"/>
<polyline points="207.99,609.45 207.99,626.51" class="w"/>
<polyline points="225.06,609.45 225.06,626.51" class="w"/>
<polyline points="242.12,609.45 242.12,626.51" class="w"/>
<polyline points="259.19,609.45 259.19,626.51" class="w"/>
<polyline points="276.26,609.45 276.26,626.51" class="w"/>
<polyline points="293.32,609.45 293.32,626.51" class="w"/>
<polyline points="225.06,97.47 242.12,97.47" class="w"/>
<polyline points="463.98,97.47 481.05,97.47" class="w"/>
<polyline points="788.24,97.47 805.3,97.47" class="w"/>
<circle cx="310.39" cy="63.34" r="3.8" fill="#00009c"/>
<circle cx="446.92" cy="63.34" r="3.8" fill="#00009c"/>
<circle cx="771.17" cy="63.34" r="3.8" fill="#00009c"/>
<circle cx="993.03" cy="234" r="3.8" fill="#00009c"/>
<circle cx="771.17" cy="131.6" r="3.8" fill="#00009c"/>
<circle cx="446.92" cy="182.8" r="3.8" fill="#00009c"/>
<circle cx="446.92" cy="199.86" r="3.8" fill="#00009c"/>
<circle cx="771.17" cy="199.86" r="3.8" fill="#00009c"/>
<circle cx="856.5" cy="199.86" r="3.8" fill="#00009c"/>
<circle cx="668.77" cy="370.52" r="3.8" fill="#00009c"/>
<circle cx="156.79" cy="438.79" r="3.8" fill="#00009c"/>
<circle cx="259.19" cy="507.05" r="3.8" fill="#00009c"/>
<circle cx="463.98" cy="472.92" r="3.8" fill="#00009c"/>
<circle cx="105.6" cy="165.73" r="2.1" fill="#00009c"/>
<circle cx="105.6" cy="182.8" r="2.1" fill="#00009c"/>
<circle cx="105.6" cy="199.86" r="2.1" fill="#00009c"/>
<circle cx="105.6" cy="216.93" r="2.1" fill="#00009c"/>
<circle cx="190.93" cy="165.73" r="2.1" fill="#b20000"/>
<circle cx="190.93" cy="182.8" r="2.1" fill="#b20000"/>
<circle cx="88.53" cy="182.8" r="2.1" fill="#00009c"/>
<circle cx="88.53" cy="199.86" r="2.1" fill="#00009c"/>
<circle cx="327.45" cy="165.73" r="2.1" fill="#00009c"/>
<circle cx="327.45" cy="182.8" r="2.1" fill="#00009c"/>
<circle cx="327.45" cy="199.86" r="2.1" fill="#00009c"/>
<circle cx="327.45" cy="216.93" r="2.1" fill="#00009c"/>
<circle cx="327.45" cy="234" r="2.1" fill="#00009c"/>
<circle cx="412.78" cy="165.73" r="2.1" fill="#b20000"/>
<circle cx="412.78" cy="182.8" r="2.1" fill="#b20000"/>
<circle cx="310.39" cy="182.8" r="2.1" fill="#00009c"/>
<circle cx="310.39" cy="234" r="2.1" fill="#00009c"/>
<circle cx="207.99" cy="80.4" r="2.1" fill="#b20000"/>
<circle cx="207.99" cy="114.53" r="2.1" fill="#00009c"/>
<circle cx="225.06" cy="97.47" r="2.1" fill="#00009c"/>
<circle cx="242.12" cy="97.47" r="2.1" fill="#00009c"/>
<circle cx="446.92" cy="80.4" r="2.1" fill="#b20000"/>
<circle cx="446.92" cy="114.53" r="2.1" fill="#00009c"/>
<circle cx="463.98" cy="97.47" r="2.1" fill="#00009c"/>
<circle cx="481.05" cy="97.47" r="2.1" fill="#00009c"/>
<circle cx="771.17" cy="80.4" r="2.1" fill="#b20000"/>
<circle cx="771.17" cy="114.53" r="2.1" fill="#00009c"/>
<circle cx="788.24" cy="97.47" r="2.1" fill="#00009c"/>
<circle cx="805.3" cy="97.47" r="2.1" fill="#00009c"/>
<circle cx="481.05" cy="165.73" r="2.1" fill="#00009c"/>
<circle cx="481.05" cy="199.86" r="2.1" fill="#00009c"/>
<circle cx="515.18" cy="182.8" r="2.1" fill="#b20000"/>
<circle cx="498.11" cy="199.86" r="2.1" fill="#00009c"/>
<circle cx="498.11" cy="216.93" r="2.1" fill="#00009c"/>
<circle cx="685.84" cy="182.8" r="2.1" fill="#00009c"/>
<circle cx="685.84" cy="268.13" r="2.1" fill="#00009c"/>
<circle cx="685.84" cy="285.19" r="2.1" fill="#00009c"/>
<circle cx="754.1" cy="199.86" r="2.1" fill="#b20000"/>
<circle cx="754.1" cy="216.93" r="2.1" fill="#b20000"/>
<circle cx="754.1" cy="234" r="2.1" fill="#b20000"/>
<circle cx="754.1" cy="251.06" r="2.1" fill="#b20000"/>
<circle cx="737.04" cy="268.13" r="2.1" fill="#00009c"/>
<circle cx="737.04" cy="302.26" r="2.1" fill="#00009c"/>
<circle cx="924.76" cy="199.86" r="2.1" fill="#00009c"/>
<circle cx="924.76" cy="216.93" r="2.1" fill="#00009c"/>
<circle cx="924.76" cy="251.06" r="2.1" fill="#00009c"/>
<circle cx="924.76" cy="268.13" r="2.1" fill="#00009c"/>
<circle cx="975.96" cy="234" r="2.1" fill="#b20000"/>
<circle cx="907.7" cy="216.93" r="2.1" fill="#00009c"/>
<circle cx="907.7" cy="251.06" r="2.1" fill="#00009c"/>
<circle cx="907.7" cy="268.13" r="2.1" fill="#00009c"/>
<circle cx="924.76" cy="387.59" r="2.1" fill="#00009c"/>
<circle cx="924.76" cy="404.66" r="2.1" fill="#00009c"/>
<circle cx="924.76" cy="438.79" r="2.1" fill="#00009c"/>
<circle cx="924.76" cy="455.85" r="2.1" fill="#00009c"/>
<circle cx="975.96" cy="421.72" r="2.1" fill="#b20000"/>
<circle cx="907.7" cy="404.66" r="2.1" fill="#00009c"/>
<circle cx="907.7" cy="438.79" r="2.1" fill="#00009c"/>
<circle cx="907.7" cy="455.85" r="2.1" fill="#00009c"/>
<circle cx="71.46" cy="421.72" r="2.1" fill="#00009c"/>
<circle cx="71.46" cy="455.85" r="2.1" fill="#00009c"/>
<circle cx="122.66" cy="438.79" r="2.1" fill="#b20000"/>
<circle cx="54.4" cy="455.85" r="2.1" fill="#b20000"/>
<circle cx="173.86" cy="438.79" r="2.1" fill="#00009c"/>
<circle cx="190.93" cy="438.79" r="2.1" fill="#b20000"/>
<circle cx="190.93" cy="455.85" r="2.1" fill="#b20000"/>
<circle cx="190.93" cy="472.92" r="2.1" fill="#b20000"/>
<circle cx="190.93" cy="489.99" r="2.1" fill="#b20000"/>
<circle cx="327.45" cy="421.72" r="2.1" fill="#00009c"/>
<circle cx="327.45" cy="438.79" r="2.1" fill="#00009c"/>
<circle cx="327.45" cy="455.85" r="2.1" fill="#00009c"/>
<circle cx="395.72" cy="438.79" r="2.1" fill="#b20000"/>
<circle cx="310.39" cy="438.79" r="2.1" fill="#00009c"/>
<circle cx="310.39" cy="455.85" r="2.1" fill="#00009c"/>
<circle cx="327.45" cy="507.05" r="2.1" fill="#00009c"/>
<circle cx="395.72" cy="507.05" r="2.1" fill="#b20000"/>
<circle cx="395.72" cy="524.12" r="2.1" fill="#b20000"/>
<circle cx="395.72" cy="541.18" r="2.1" fill="#b20000"/>
<circle cx="446.92" cy="472.92" r="2.1" fill="#b20000"/>
<circle cx="481.05" cy="421.72" r="2.1" fill="#00009c"/>
<circle cx="481.05" cy="438.79" r="2.1" fill="#00009c"/>
<circle cx="481.05" cy="455.85" r="2.1" fill="#00009c"/>
<circle cx="481.05" cy="472.92" r="2.1" fill="#00009c"/>
<circle cx="481.05" cy="489.99" r="2.1" fill="#00009c"/>
<circle cx="481.05" cy="507.05" r="2.1" fill="#00009c"/>
<circle cx="481.05" cy="524.12" r="2.1" fill="#00009c"/>
<circle cx="481.05" cy="541.18" r="2.1" fill="#00009c"/>
<circle cx="515.18" cy="489.99" r="2.1" fill="#b20000"/>
<circle cx="498.11" cy="558.25" r="2.1" fill="#00009c"/>
<circle cx="498.11" cy="575.32" r="2.1" fill="#00009c"/>
<circle cx="617.58" cy="353.46" r="2.1" fill="#00009c"/>
<circle cx="617.58" cy="370.52" r="2.1" fill="#00009c"/>
<circle cx="617.58" cy="404.66" r="2.1" fill="#00009c"/>
<circle cx="617.58" cy="421.72" r="2.1" fill="#00009c"/>
<circle cx="566.38" cy="387.59" r="2.1" fill="#b20000"/>
<circle cx="634.64" cy="353.46" r="2.1" fill="#00009c"/>
<circle cx="737.04" cy="353.46" r="2.1" fill="#00009c"/>
<circle cx="737.04" cy="370.52" r="2.1" fill="#00009c"/>
<circle cx="737.04" cy="387.59" r="2.1" fill="#00009c"/>
<circle cx="737.04" cy="404.66" r="2.1" fill="#00009c"/>
<circle cx="737.04" cy="421.72" r="2.1" fill="#00009c"/>
<circle cx="685.84" cy="387.59" r="2.1" fill="#b20000"/>
<circle cx="685.84" cy="404.66" r="2.1" fill="#b20000"/>
<circle cx="685.84" cy="421.72" r="2.1" fill="#b20000"/>
<circle cx="754.1" cy="353.46" r="2.1" fill="#00009c"/>
<circle cx="754.1" cy="370.52" r="2.1" fill="#00009c"/>
<circle cx="293.32" cy="524.12" r="2.1" fill="#00009c"/>
<circle cx="54.4" cy="609.45" r="2.1" fill="#b20000"/>
<circle cx="54.4" cy="626.51" r="2.1" fill="#00009c"/>
<circle cx="71.46" cy="609.45" r="2.1" fill="#b20000"/>
<circle cx="71.46" cy="626.51" r="2.1" fill="#00009c"/>
<circle cx="88.53" cy="609.45" r="2.1" fill="#b20000"/>
<circle cx="88.53" cy="626.51" r="2.1" fill="#00009c"/>
<circle cx="105.6" cy="609.45" r="2.1" fill="#b20000"/>
<circle cx="105.6" cy="626.51" r="2.1" fill="#00009c"/>
<circle cx="122.66" cy="609.45" r="2.1" fill="#b20000"/>
<circle cx="122.66" cy="626.51" r="2.1" fill="#00009c"/>
<circle cx="139.73" cy="609.45" r="2.1" fill="#b20000"/>
<circle cx="139.73" cy="626.51" r="2.1" fill="#00009c"/>
<circle cx="156.79" cy="609.45" r="2.1" fill="#b20000"/>
<circle cx="156.79" cy="626.51" r="2.1" fill="#00009c"/>
<circle cx="173.86" cy="609.45" r="2.1" fill="#b20000"/>
<circle cx="173.86" cy="626.51" r="2.1" fill="#00009c"/>
<circle cx="190.93" cy="609.45" r="2.1" fill="#b20000"/>
<circle cx="190.93" cy="626.51" r="2.1" fill="#00009c"/>
<circle cx="207.99" cy="609.45" r="2.1" fill="#b20000"/>
<circle cx="207.99" cy="626.51" r="2.1" fill="#00009c"/>
<circle cx="225.06" cy="609.45" r="2.1" fill="#b20000"/>
<circle cx="225.06" cy="626.51" r="2.1" fill="#00009c"/>
<circle cx="242.12" cy="609.45" r="2.1" fill="#b20000"/>
<circle cx="242.12" cy="626.51" r="2.1" fill="#00009c"/>
<circle cx="259.19" cy="609.45" r="2.1" fill="#b20000"/>
<circle cx="259.19" cy="626.51" r="2.1" fill="#00009c"/>
<circle cx="276.26" cy="609.45" r="2.1" fill="#b20000"/>
<circle cx="276.26" cy="626.51" r="2.1" fill="#00009c"/>
<circle cx="293.32" cy="609.45" r="2.1" fill="#b20000"/>
<circle cx="293.32" cy="626.51" r="2.1" fill="#00009c"/>
<circle cx="805.3" cy="609.45" r="2.1" fill="#b20000"/>
<circle cx="822.37" cy="609.45" r="2.1" fill="#00009c"/>
<defs><linearGradient id="tbg" x1="0" y1="0" x2="0" y2="1"><stop offset="0" stop-color="#f3f3f3"/><stop offset="1" stop-color="#dfdfdf"/></linearGradient><linearGradient id="btng" x1="0" y1="0" x2="0" y2="1"><stop offset="0" stop-color="#f0f0f0"/><stop offset="1" stop-color="#e9e9e9"/></linearGradient><radialGradient id="helpg" cx="0.5" cy="0.35" r="0.65"><stop offset="0" stop-color="#6f9ad2"/><stop offset="1" stop-color="#2f5d9e"/></radialGradient><radialGradient id="lensg" cx="0.5" cy="0.4" r="0.6"><stop offset="0" stop-color="#cfe3f7"/><stop offset="1" stop-color="#86afe0"/></radialGradient><linearGradient id="foldg" x1="0" y1="0" x2="0" y2="1"><stop offset="0" stop-color="#6d9fda"/><stop offset="1" stop-color="#3f73b8"/></linearGradient><radialGradient id="glow" cx="0.5" cy="0.5" r="0.5"><stop offset="0" stop-color="#f4f460"/><stop offset="0.6" stop-color="#eeee30"/><stop offset="1" stop-color="#eeee30" stop-opacity="0"/></radialGradient></defs>
<rect x="0" y="0" width="1024" height="41" fill="url(#tbg)"/>
<rect x="0" y="40" width="1024" height="1" fill="#eeeeee"/>
<rect x="0" y="41.3" width="1024" height="1.3" fill="#c4c4c4"/>
<path d="M4.8 0.8h1.3v1.3h-1.3zM8.8 0.8h1.3v1.3h-1.3zM12.8 0.8h1.3v1.3h-1.3zM6.8 2.9h1.3v1.3h-1.3zM10.8 2.9h1.3v1.3h-1.3zM4.8 4.8h1.3v1.3h-1.3zM8.8 4.8h1.3v1.3h-1.3zM12.8 4.8h1.3v1.3h-1.3zM6.8 6.8h1.3v1.3h-1.3zM10.8 6.8h1.3v1.3h-1.3zM4.8 8.8h1.3v1.3h-1.3zM8.8 8.8h1.3v1.3h-1.3zM12.8 8.8h1.3v1.3h-1.3zM6.8 10.8h1.3v1.3h-1.3zM10.8 10.8h1.3v1.3h-1.3zM4.8 12.8h1.3v1.3h-1.3zM8.8 12.8h1.3v1.3h-1.3zM12.8 12.8h1.3v1.3h-1.3zM6.8 14.8h1.3v1.3h-1.3zM10.8 14.8h1.3v1.3h-1.3zM4.8 16.9h1.3v1.3h-1.3zM8.8 16.9h1.3v1.3h-1.3zM12.8 16.9h1.3v1.3h-1.3zM6.8 18.9h1.3v1.3h-1.3zM10.8 18.9h1.3v1.3h-1.3zM4.8 20.9h1.3v1.3h-1.3zM8.8 20.9h1.3v1.3h-1.3zM12.8 20.9h1.3v1.3h-1.3zM6.8 22.9h1.3v1.3h-1.3zM10.8 22.9h1.3v1.3h-1.3zM4.8 24.9h1.3v1.3h-1.3zM8.8 24.9h1.3v1.3h-1.3zM12.8 24.9h1.3v1.3h-1.3zM6.8 26.9h1.3v1.3h-1.3zM10.8 26.9h1.3v1.3h-1.3zM4.8 28.9h1.3v1.3h-1.3zM8.8 28.9h1.3v1.3h-1.3zM12.8 28.9h1.3v1.3h-1.3zM6.8 30.9h1.3v1.3h-1.3zM10.8 30.9h1.3v1.3h-1.3zM4.8 32.9h1.3v1.3h-1.3zM8.8 32.9h1.3v1.3h-1.3zM12.8 32.9h1.3v1.3h-1.3zM6.8 34.9h1.3v1.3h-1.3zM10.8 34.9h1.3v1.3h-1.3zM4.8 36.9h1.3v1.3h-1.3zM8.8 36.9h1.3v1.3h-1.3zM12.8 36.9h1.3v1.3h-1.3zM6.8 38.9h1.3v1.3h-1.3zM10.8 38.9h1.3v1.3h-1.3z" fill="#5a5a5a"/>
<rect x="18.5" y="0.5" width="38.2" height="38" fill="url(#btng)" stroke="#747474" stroke-width="1.3"/>
<rect x="19.6" y="1.6" width="36.0" height="35.8" fill="none" stroke="#fbfbfb" stroke-width="0.9"/>
<rect x="58.5" y="0.5" width="38.2" height="38" fill="url(#btng)" stroke="#747474" stroke-width="1.3"/>
<rect x="59.6" y="1.6" width="36.0" height="35.8" fill="none" stroke="#fbfbfb" stroke-width="0.9"/>
<rect x="98.5" y="0.5" width="38.2" height="38" fill="url(#btng)" stroke="#cacaca" stroke-width="1.2"/>
<rect x="99.6" y="1.6" width="36.0" height="35.8" fill="none" stroke="#f8f8f8" stroke-width="0.9"/>
<rect x="148.5" y="0.5" width="38.2" height="38" fill="url(#btng)" stroke="#747474" stroke-width="1.3"/>
<rect x="149.6" y="1.6" width="36.0" height="35.8" fill="none" stroke="#fbfbfb" stroke-width="0.9"/>
<rect x="188.5" y="0.5" width="38.2" height="38" fill="url(#btng)" stroke="#747474" stroke-width="1.3"/>
<rect x="189.6" y="1.6" width="36.0" height="35.8" fill="none" stroke="#fbfbfb" stroke-width="0.9"/>
<rect x="228.5" y="0.5" width="38.2" height="38" fill="url(#btng)" stroke="#747474" stroke-width="1.3"/>
<rect x="229.6" y="1.6" width="36.0" height="35.8" fill="none" stroke="#fbfbfb" stroke-width="0.9"/>
<rect x="268.5" y="0.5" width="38.2" height="38" fill="url(#btng)" stroke="#747474" stroke-width="1.3"/>
<rect x="269.6" y="1.6" width="36.0" height="35.8" fill="none" stroke="#fbfbfb" stroke-width="0.9"/>
<rect x="318.5" y="0.5" width="38.2" height="38" fill="url(#btng)" stroke="#cacaca" stroke-width="1.2"/>
<rect x="319.6" y="1.6" width="36.0" height="35.8" fill="none" stroke="#f8f8f8" stroke-width="0.9"/>
<rect x="358.5" y="0.5" width="38.2" height="38" fill="url(#btng)" stroke="#cacaca" stroke-width="1.2"/>
<rect x="359.6" y="1.6" width="36.0" height="35.8" fill="none" stroke="#f8f8f8" stroke-width="0.9"/>
<rect x="398.5" y="0.5" width="38.2" height="38" fill="url(#btng)" stroke="#cacaca" stroke-width="1.2"/>
<rect x="399.6" y="1.6" width="36.0" height="35.8" fill="none" stroke="#f8f8f8" stroke-width="0.9"/>
<rect x="448.2" y="0" width="38.8" height="39" fill="#efefef"/>
<path d="M448.8 39 V0.8 H486.7" fill="none" stroke="#ffffff" stroke-width="1.4"/>
<path d="M448.5 39.2 H486.7 V0" fill="none" stroke="#5e5e5e" stroke-width="1.6"/>
<rect x="488.5" y="0.5" width="38.2" height="38" fill="url(#btng)" stroke="#cacaca" stroke-width="1.2"/>
<rect x="489.6" y="1.6" width="36.0" height="35.8" fill="none" stroke="#f8f8f8" stroke-width="0.9"/>
<rect x="528.5" y="0.5" width="38.2" height="38" fill="url(#btng)" stroke="#cacaca" stroke-width="1.2"/>
<rect x="529.6" y="1.6" width="36.0" height="35.8" fill="none" stroke="#f8f8f8" stroke-width="0.9"/>
<rect x="578.2" y="0" width="38.8" height="39" fill="#efefef"/>
<path d="M578.8 39 V0.8 H616.7" fill="none" stroke="#ffffff" stroke-width="1.4"/>
<path d="M578.5 39.2 H616.7 V0" fill="none" stroke="#5e5e5e" stroke-width="1.6"/>
<rect x="618.5" y="0.5" width="38.2" height="38" fill="url(#btng)" stroke="#cacaca" stroke-width="1.2"/>
<rect x="619.6" y="1.6" width="36.0" height="35.8" fill="none" stroke="#f8f8f8" stroke-width="0.9"/>
<rect x="658.5" y="0.5" width="38.2" height="38" fill="url(#btng)" stroke="#cacaca" stroke-width="1.2"/>
<rect x="659.6" y="1.6" width="36.0" height="35.8" fill="none" stroke="#f8f8f8" stroke-width="0.9"/>
<rect x="708.5" y="0.5" width="38.2" height="38" fill="url(#btng)" stroke="#747474" stroke-width="1.3"/>
<rect x="709.6" y="1.6" width="36.0" height="35.8" fill="none" stroke="#fbfbfb" stroke-width="0.9"/>
<rect x="27.5" y="8" width="21" height="25" rx="1.5" fill="#f2f2f2" stroke="#7a7a7a" stroke-width="1.1"/>
<rect x="29" y="9.5" width="18" height="12" fill="#e2e2e2"/>
<circle cx="45.5" cy="12.2" r="6" fill="url(#glow)"/>
<path d="M64.5 9.5 L70 9.5 L70 29 L66 29 Z" fill="#6e6e6e"/>
<path d="M70.5 7.5 L89.5 7.5 L88 17 L70 17 Z" fill="#d8d8d8" stroke="#8a8a8a" stroke-width="0.8"/>
<path d="M70.5 16.3 L91.8 16.3 L88.6 29.2 L66.3 29.2 Z" fill="url(#foldg)"/>
<path d="M105.5 19 L111 17 L118.2 24 L125.5 17 L130.8 19 L130.8 30 Q130.8 32.5 128.3 32.5 L108 32.5 Q105.5 32.5 105.5 30 Z" fill="#d3d3d3"/>
<path d="M107.5 16.5 Q109 6 117.5 7.5 Q122.5 8.5 123 13 L126.5 13 L120.5 20.5 L114.5 13 L118.3 13 Q118 11.3 115.5 11.3 Q110.5 11.3 107.5 16.5 Z" fill="#d3d3d3"/>
<circle cx="168" cy="19.7" r="11.8" fill="#3b5f95"/>
<circle cx="168" cy="19.7" r="11" fill="#e9f0f8"/>
<circle cx="168" cy="19.7" r="9.8" fill="url(#helpg)"/>
<text x="168" y="25.2" font-size="15.5" font-weight="bold" fill="#ffffff" text-anchor="middle" style="font-family:'Liberation Sans',sans-serif">?</text>
<ellipse cx="205.7" cy="29.0" rx="10" ry="2.2" fill="#dcdcdc" opacity="0.7"/>
<line x1="210.7" y1="22.5" x2="218.7" y2="29.5" stroke="#7c7c7c" stroke-width="3.6" stroke-linecap="round"/>
<line x1="211.2" y1="22.5" x2="218.2" y2="28.8" stroke="#a8a8a8" stroke-width="1.4" stroke-linecap="round"/>
<circle cx="204.7" cy="16.0" r="9" fill="#f4f7fb" stroke="#8a9bb0" stroke-width="0.8"/>
<circle cx="204.7" cy="16.0" r="7.2" fill="url(#lensg)" stroke="#4f79b4" stroke-width="0.9"/>
<path d="M200.8 14.7 h2.6 v-2.6 h2.6 v2.6 h2.6 v2.6 h-2.6 v2.6 h-2.6 v-2.6 h-2.6 z" fill="#4f7fc2"/>
<ellipse cx="245.9" cy="29.0" rx="10" ry="2.2" fill="#dcdcdc" opacity="0.7"/>
<line x1="250.9" y1="22.5" x2="258.9" y2="29.5" stroke="#7c7c7c" stroke-width="3.6" stroke-linecap="round"/>
<line x1="251.4" y1="22.5" x2="258.4" y2="28.8" stroke="#a8a8a8" stroke-width="1.4" stroke-linecap="round"/>
<circle cx="244.9" cy="16.0" r="9" fill="#f4f7fb" stroke="#8a9bb0" stroke-width="0.8"/>
<circle cx="244.9" cy="16.0" r="7.2" fill="url(#lensg)" stroke="#4f79b4" stroke-width="0.9"/>
<rect x="240.9" y="14.6" width="8" height="2.8" fill="#4f7fc2"/>
<ellipse cx="285.9" cy="29.0" rx="10" ry="2.2" fill="#dcdcdc" opacity="0.7"/>
<line x1="290.9" y1="22.5" x2="298.9" y2="29.5" stroke="#7c7c7c" stroke-width="3.6" stroke-linecap="round"/>
<line x1="291.4" y1="22.5" x2="298.4" y2="28.8" stroke="#a8a8a8" stroke-width="1.4" stroke-linecap="round"/>
<circle cx="284.9" cy="16.0" r="9" fill="#f4f7fb" stroke="#8a9bb0" stroke-width="0.8"/>
<circle cx="284.9" cy="16.0" r="7.2" fill="url(#lensg)" stroke="#4f79b4" stroke-width="0.9"/>
<circle cx="282.3" cy="13.4" r="2" fill="#4f7fc2"/>
<circle cx="287.5" cy="13.4" r="2" fill="#4f7fc2"/>
<circle cx="282.3" cy="18.6" r="2" fill="#4f7fc2"/>
<circle cx="287.5" cy="18.6" r="2" fill="#4f7fc2"/>
<path d="M327 16 L335 8 L335 12.5 Q347 12.5 346.5 23 Q346 29 340 30 Q343 25 341 21 Q339 18.5 335 19 L335 24 Z" fill="#d0d0d0"/>
<path d="M389.5 16 L381.5 8 L381.5 12.5 Q369.5 12.5 370 23 Q370.5 29 376.5 30 Q373.5 25 375.5 21 Q377.5 18.5 381.5 19 L381.5 24 Z" fill="#d0d0d0"/>
<path d="M409 12 Q418 7 427.5 12 L426 29 Q418 33 410.5 29 Z" fill="#d0d0d0"/>
<ellipse cx="418.2" cy="11.5" rx="9.2" ry="3" fill="#dadada"/>
<path d="M461.2 11.8 L475.6 20 L461.2 28 Z" fill="none" stroke="#555" stroke-width="0.9" stroke-linejoin="round"/>
<path d="M496 12.7 L505 19.5 L496 26.4 Z M505.5 12.7 L514.5 19.5 L505.5 26.4 Z" fill="#d2d2d2"/>
<rect x="516.5" y="13" width="4" height="13.4" fill="#d2d2d2"/>
<rect x="540.5" y="12.2" width="14" height="14.5" rx="1.5" fill="#d2d2d2"/>
<path d="M591 11 L604 19.5 L591 28 Z" fill="none" stroke="#555" stroke-width="0.9" stroke-linejoin="round"/>
<path d="M596 24 L602.5 28 L596 32 Z M602.5 24 L609 28 L602.5 32 Z" fill="#f5f5f5" stroke="#555" stroke-width="0.8" stroke-linejoin="round"/>
<path d="M627 13 L636 19.5 L627 26 Z M636 13 L645 19.5 L636 26 Z" fill="#d2d2d2"/>
<path d="M631 22 L638 27 L631 32 Z M638 22 L645 27 L638 32 Z" fill="#d8d8d8"/>
<path d="M667 13 L676 19.5 L667 26 Z M676 13 L685 19.5 L676 26 Z" fill="#d2d2d2"/>
<path d="M673 22 L680 27 L673 32 Z M680 22 L687 27 L680 32 Z" fill="#d8d8d8"/>
<rect x="686" y="13" width="3.5" height="16" fill="#d2d2d2"/>
<path d="M720.4 11 L733 19.5 L720.4 28 Z" fill="none" stroke="#555" stroke-width="0.9" stroke-linejoin="round"/>
<path d="M724.5 23.5 L730.5 29.8 L740.5 15.5" fill="none" stroke="#2f9a2f" stroke-width="3.2" stroke-linecap="round" stroke-linejoin="round"/>
<rect x="0" y="0" width="2" height="675" fill="#2e5f91"/>
<rect x="1022" y="0" width="2" height="675" fill="#2e5f91"/>
</svg>
</body></html>
